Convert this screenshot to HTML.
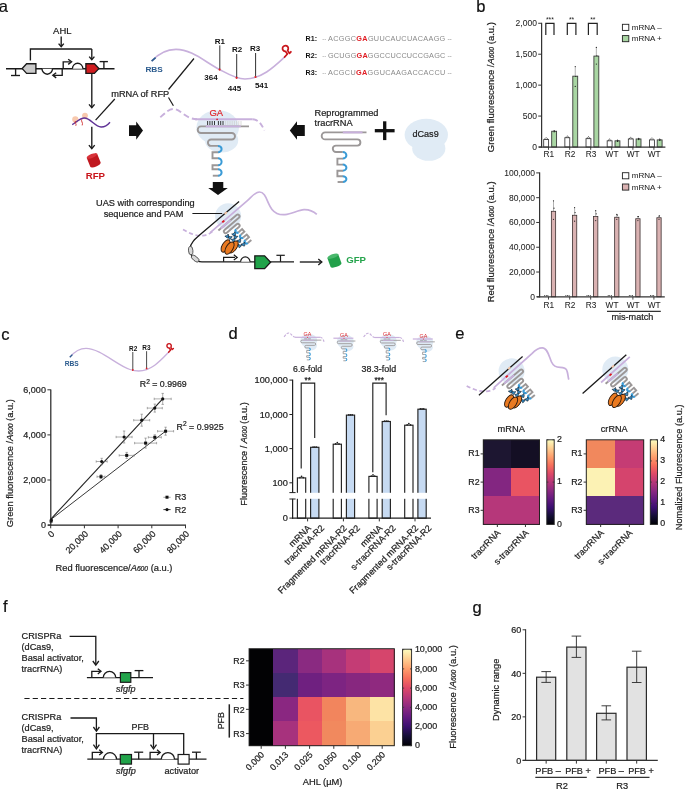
<!DOCTYPE html>
<html><head><meta charset="utf-8"><title>Figure</title>
<style>html,body{margin:0;padding:0;background:#fff}svg{display:block}text{font-family:"Liberation Sans",sans-serif}</style></head><body>
<svg width="685" height="789" viewBox="0 0 685 789">
<rect x="0" y="0" width="685" height="789" fill="#fff"/>
<defs><linearGradient id="magma" x1="0" y1="1" x2="0" y2="0">
<stop offset="0" stop-color="#000004"/>
<stop offset="0.1" stop-color="#140e36"/>
<stop offset="0.2" stop-color="#3b0f70"/>
<stop offset="0.3" stop-color="#641a80"/>
<stop offset="0.4" stop-color="#8c2981"/>
<stop offset="0.5" stop-color="#b73779"/>
<stop offset="0.6" stop-color="#de4968"/>
<stop offset="0.7" stop-color="#f7705c"/>
<stop offset="0.8" stop-color="#fe9f6d"/>
<stop offset="0.9" stop-color="#fecf92"/>
<stop offset="1" stop-color="#fcfdbf"/>
</linearGradient></defs>
<text x="-1.3" y="12.3" font-size="16.5" fill="#111" stroke="#111" stroke-width="0.22" >a</text>
<text x="476.2" y="11.6" font-size="16.5" fill="#111" stroke="#111" stroke-width="0.22" >b</text>
<text x="1.2" y="340" font-size="16.5" fill="#111" stroke="#111" stroke-width="0.22" >c</text>
<text x="228.6" y="339.4" font-size="16.5" fill="#111" stroke="#111" stroke-width="0.22" >d</text>
<text x="455.2" y="339.4" font-size="16.5" fill="#111" stroke="#111" stroke-width="0.22" >e</text>
<text x="3.1" y="611.6" font-size="16.5" fill="#111" stroke="#111" stroke-width="0.22" >f</text>
<text x="472.6" y="613.2" font-size="16.5" fill="#111" stroke="#111" stroke-width="0.22" >g</text>
<g id="panelA">
<text x="62.3" y="34.4" font-size="9.4" text-anchor="middle" fill="#1e1e1e" stroke="#1e1e1e" stroke-width="0.22" textLength="18.4" lengthAdjust="spacingAndGlyphs" >AHL</text>
<line x1="61.2" y1="36.5" x2="61.2" y2="46.3" stroke="#1a1a1a" stroke-width="1.35" />
<path d="M58.6,43.6 L61.2,46.8 L63.8,43.6" stroke="#1a1a1a" stroke-width="1.35" fill="none" stroke-linejoin="miter"/>
<path d="M30.4,60.5 L30.4,49 L91.8,49" stroke="#1a1a1a" stroke-width="1.35" fill="none" />
<line x1="91.8" y1="49" x2="91.8" y2="59.3" stroke="#1a1a1a" stroke-width="1.35" />
<path d="M89.2,56.6 L91.8,59.8 L94.4,56.6" stroke="#1a1a1a" stroke-width="1.35" fill="none" stroke-linejoin="miter"/>
<line x1="6" y1="68.7" x2="114.5" y2="68.7" stroke="#1a1a1a" stroke-width="1.35" />
<line x1="15.6" y1="68.7" x2="15.6" y2="75.5" stroke="#1a1a1a" stroke-width="1.35" />
<line x1="11" y1="75.5" x2="20" y2="75.5" stroke="#1a1a1a" stroke-width="1.35" />
<path d="M35.9,63.7 L26.6,63.7 L22.2,68.6 L26.6,73.4 L35.9,73.4 Z" stroke="#1a1a1a" stroke-width="1.35" fill="#cbcbcb" stroke-linejoin="miter"/>
<path d="M42,68.7 A5.25,5.5 0 0,0 52.5,68.7" stroke="#1a1a1a" stroke-width="1.35" fill="#fff" />
<path d="M62.2,68.7 L62.2,75.3 L53.6,75.3" stroke="#1a1a1a" stroke-width="1.35" fill="none" />
<path d="M56.2,72.7 L52.8,75.3 L56.2,77.9" stroke="#1a1a1a" stroke-width="1.35" fill="none" />
<path d="M63.2,68.7 L63.2,61.8 L70.6,61.8" stroke="#1a1a1a" stroke-width="1.35" fill="none" />
<path d="M68.2,59.2 L71.6,61.8 L68.2,64.4" stroke="#1a1a1a" stroke-width="1.35" fill="none" />
<path d="M72.4,68.7 A5.25,5.4 0 0,1 82.9,68.7" stroke="#1a1a1a" stroke-width="1.35" fill="#fff" />
<path d="M85.9,63.7 L94.4,63.7 L98.9,68.6 L94.4,73.4 L85.9,73.4 Z" stroke="#1a1a1a" stroke-width="1.35" fill="#d01c1f" />
<line x1="103.9" y1="68.7" x2="103.9" y2="61.6" stroke="#1a1a1a" stroke-width="1.35" />
<line x1="99.6" y1="61.6" x2="107.9" y2="61.6" stroke="#1a1a1a" stroke-width="1.35" />
<line x1="91.8" y1="74" x2="91.8" y2="107.3" stroke="#1a1a1a" stroke-width="1.35" />
<path d="M89,104.4 L91.8,107.8 L94.6,104.4" stroke="#1a1a1a" stroke-width="1.35" fill="none" stroke-linejoin="miter"/>
<circle cx="75.3" cy="119.4" r="3.1" fill="#f8c9ae"/>
<circle cx="85" cy="115.6" r="2.9" fill="#f8c9ae"/>
<ellipse cx="75.8" cy="121.6" rx="2.4" ry="1.2" fill="#f8c9ae"/>
<ellipse cx="85.5" cy="118.2" rx="2.2" ry="1.1" fill="#f8c9ae"/>
<path d="M72.2,124.6 C76,122.4 80,118 84.4,118 C90.4,118 95,126.8 101,127 C105,127.2 108,124.6 110,122.2" stroke="#5f3296" stroke-width="1.35" fill="none" />
<path d="M75.4,121 C74.2,122.8 77,123.6 75.8,125.8" stroke="#cf2b2b" stroke-width="0.9" fill="none" />
<path d="M81.8,119.4 C80.6,121.4 83.4,122.4 82.2,125.4" stroke="#cf2b2b" stroke-width="0.9" fill="none" />
<line x1="114.8" y1="99" x2="95.6" y2="120.2" stroke="#1a1a1a" stroke-width="1.25" />
<line x1="91.8" y1="126.8" x2="91.8" y2="148.1" stroke="#1a1a1a" stroke-width="1.35" />
<path d="M88.9,145.1 L91.8,148.6 L94.7,145.1" stroke="#1a1a1a" stroke-width="1.35" fill="none" stroke-linejoin="miter"/>
<g transform="translate(93.6,160) rotate(-22)">
<path d="M-5.6,-4.4 L-5.6,5 A5.6,2 0 0,0 5.6,5 L5.6,-4.4 Z" fill="#c0181f"/>
<ellipse cx="0" cy="-4.4" rx="5.6" ry="2" fill="#d8323a"/>
</g>
<text x="95.4" y="178.6" font-size="9.7" text-anchor="middle" fill="#c9151b" font-weight="bold" textLength="19.4" lengthAdjust="spacingAndGlyphs" >RFP</text>
<text x="111.2" y="96.6" font-size="9.2" fill="#1e1e1e" stroke="#1e1e1e" stroke-width="0.22" textLength="58" lengthAdjust="spacingAndGlyphs" >mRNA of RFP</text>
<path d="M129,125.2 L136.2,125.2 L136.2,121.4 L143,130.6 L136.2,139.8 L136.2,136 L129,136 Z" stroke="none" stroke-width="0" fill="#111" />
<path d="M151.8,61 C160,52 168,49.4 176,49.4 C192,49.4 205,62 219.5,69.5 C228,74 236,79 245,79 C262,79 275,66 285.8,56" stroke="#c8b0dc" stroke-width="1.6" fill="none" stroke-linecap="butt"/>
<line x1="151.6" y1="61.2" x2="155.6" y2="57.6" stroke="#2b5b8e" stroke-width="1.7" />
<text x="145.4" y="72.3" font-size="8" fill="#2b5b8e" font-weight="bold" textLength="17.4" lengthAdjust="spacingAndGlyphs" >RBS</text>
<path d="M284.6,57 L287.4,54 L285.6,51.4 A2.9,2.9 0 1,1 287.6,50.4 L289.4,53.4 L290.9,51.8" stroke="#c9151b" stroke-width="1.75" fill="none" stroke-linejoin="round" stroke-linecap="round"/>
<text x="219.9" y="43.6" font-size="8" text-anchor="middle" fill="#111" font-weight="bold" >R1</text>
<line x1="219.8" y1="45.4" x2="219.8" y2="69" stroke="#1a1a1a" stroke-width="0.9" />
<text x="237" y="51.8" font-size="8" text-anchor="middle" fill="#111" font-weight="bold" >R2</text>
<line x1="236.7" y1="54" x2="236.7" y2="77.4" stroke="#1a1a1a" stroke-width="0.9" />
<text x="255.2" y="51" font-size="8" text-anchor="middle" fill="#111" font-weight="bold" >R3</text>
<line x1="255.6" y1="53" x2="255.6" y2="76.6" stroke="#1a1a1a" stroke-width="0.9" />
<circle cx="219.6" cy="69.6" r="1.1" fill="#e02020"/>
<circle cx="236.6" cy="77.8" r="1.1" fill="#e02020"/>
<circle cx="255.5" cy="77" r="1.1" fill="#e02020"/>
<text x="211" y="80" font-size="8" text-anchor="middle" fill="#111" font-weight="bold" >364</text>
<text x="234.5" y="91.3" font-size="8" text-anchor="middle" fill="#111" font-weight="bold" >445</text>
<text x="261.6" y="87.8" font-size="8" text-anchor="middle" fill="#111" font-weight="bold" >541</text>
<line x1="194" y1="58.5" x2="168.5" y2="89.5" stroke="#1a1a1a" stroke-width="1.2" />
<line x1="168.5" y1="97.5" x2="173.4" y2="105.7" stroke="#1a1a1a" stroke-width="1.2" />
<text x="305.6" y="41.2" font-size="7.3" fill="#111" font-weight="bold" textLength="11.5" lengthAdjust="spacingAndGlyphs" >R1:</text>
<text x="322.2" y="41.2" font-size="7.3" fill="#999" textLength="4" lengthAdjust="spacingAndGlyphs" >--</text>
<text x="328" y="41.2" font-size="7.3" fill="#8a8a8a" textLength="117.3" lengthAdjust="spacing">ACGGC<tspan fill="#e01b22" font-weight="bold">GA</tspan>GUUCAUCUACAAGG</text>
<text x="447.4" y="41.2" font-size="7.3" fill="#999" textLength="4.4" lengthAdjust="spacingAndGlyphs" >--</text>
<text x="305.6" y="58.1" font-size="7.3" fill="#111" font-weight="bold" textLength="11.5" lengthAdjust="spacingAndGlyphs" >R2:</text>
<text x="322.2" y="58.1" font-size="7.3" fill="#999" textLength="4" lengthAdjust="spacingAndGlyphs" >--</text>
<text x="328" y="58.1" font-size="7.3" fill="#8a8a8a" textLength="117.3" lengthAdjust="spacing">GCUGG<tspan fill="#e01b22" font-weight="bold">GA</tspan>GGCCUCCUCCGAGC</text>
<text x="447.4" y="58.1" font-size="7.3" fill="#999" textLength="4.4" lengthAdjust="spacingAndGlyphs" >--</text>
<text x="305.6" y="74.6" font-size="7.3" fill="#111" font-weight="bold" textLength="11.5" lengthAdjust="spacingAndGlyphs" >R3:</text>
<text x="322.2" y="74.6" font-size="7.3" fill="#999" textLength="4" lengthAdjust="spacingAndGlyphs" >--</text>
<text x="328" y="74.6" font-size="7.3" fill="#8a8a8a" textLength="117.3" lengthAdjust="spacing">ACGCU<tspan fill="#e01b22" font-weight="bold">GA</tspan>GGUCAAGACCACCU</text>
<text x="447.4" y="74.6" font-size="7.3" fill="#999" textLength="4.4" lengthAdjust="spacingAndGlyphs" >--</text>
<ellipse cx="217.7" cy="127.6" rx="21.3" ry="17.3" fill="#e0ebf5"/>
<ellipse cx="221.6" cy="140.4" rx="16.6" ry="12.1" fill="#e0ebf5"/>
<path d="M160.3,117.3 C165,113 169,109 173.4,109 C180.5,109 186,119.3 197,119.3" stroke="#c8b0dc" stroke-width="1.9" fill="none" stroke-dasharray="6,3.2"/>
<line x1="195" y1="119.3" x2="252.5" y2="119.3" stroke="#c8b0dc" stroke-width="1.9" />
<path d="M252.5,119.3 C258,119.6 261,123 264.4,130.3" stroke="#c8b0dc" stroke-width="1.9" fill="none" stroke-dasharray="5.5,3"/>
<text x="216.2" y="116.2" font-size="9.4" text-anchor="middle" fill="#e0262b" stroke="#e0262b" stroke-width="0.22" >GA</text>
<circle cx="217.1" cy="119.3" r="0.9" fill="#e02020"/>
<line x1="207.6" y1="121" x2="207.6" y2="125" stroke="#222" stroke-width="0.9" />
<line x1="209.9" y1="121" x2="209.9" y2="125" stroke="#222" stroke-width="0.9" />
<line x1="212.2" y1="121" x2="212.2" y2="125" stroke="#222" stroke-width="0.9" />
<line x1="214.5" y1="121" x2="214.5" y2="125" stroke="#222" stroke-width="0.9" />
<line x1="218.4" y1="121" x2="218.4" y2="125" stroke="#222" stroke-width="0.9" />
<line x1="220.7" y1="121" x2="220.7" y2="125" stroke="#222" stroke-width="0.9" />
<line x1="223" y1="121" x2="223" y2="125" stroke="#222" stroke-width="0.9" />
<line x1="225.6" y1="121" x2="225.6" y2="125" stroke="#cfcfcf" stroke-width="0.8" />
<line x1="227.8" y1="121" x2="227.8" y2="125" stroke="#cfcfcf" stroke-width="0.8" />
<line x1="230" y1="121" x2="230" y2="125" stroke="#cfcfcf" stroke-width="0.8" />
<line x1="232.2" y1="121" x2="232.2" y2="125" stroke="#cfcfcf" stroke-width="0.8" />
<line x1="234.4" y1="121" x2="234.4" y2="125" stroke="#cfcfcf" stroke-width="0.8" />
<line x1="236.6" y1="121" x2="236.6" y2="125" stroke="#cfcfcf" stroke-width="0.8" />
<line x1="238.8" y1="121" x2="238.8" y2="125" stroke="#cfcfcf" stroke-width="0.8" />
<line x1="241" y1="121" x2="241" y2="125" stroke="#cfcfcf" stroke-width="0.8" />
<path d="M249,126.4 L201,126.4 A3.3,3.3 0 0,0 201,133 L231.75,133 A3.25,3.25 0 0,1 231.75,139.5 L211.1,139.5 A3.2,3.2 0 0,0 211.1,145.9 L218,145.9" stroke="#9b9797" stroke-width="1.9" fill="none" />
<line x1="205.8" y1="126.4" x2="240.8" y2="126.4" stroke="#c8b0dc" stroke-width="1.9" />
<path d="M218,145.9 A3.6,3.2 0 0,1 218,152.3" stroke="#3b9bd6" stroke-width="2.0" fill="none" />
<path d="M218.2,152.3 L212.5,152.3 L212.5,158.2 L218.2,158.2" stroke="#9b9797" stroke-width="1.9" fill="none" />
<path d="M218,158.2 A3.6,3.5 0 0,1 218,165.2" stroke="#3b9bd6" stroke-width="2.0" fill="none" />
<path d="M218.2,165.2 L212.5,165.2 L212.5,169.3 L218.2,169.3" stroke="#9b9797" stroke-width="1.9" fill="none" />
<path d="M218,169.3 A3.6,3.2 0 0,1 218,175.7" stroke="#3b9bd6" stroke-width="2.0" fill="none" />
<path d="M218.2,175.7 L212.8,175.7" stroke="#9b9797" stroke-width="1.9" fill="none" />
<path d="M304.8,125.1 L297,125.1 L297,121.3 L289.8,130.5 L297,139.7 L297,135.9 L304.8,135.9 Z" stroke="none" stroke-width="0" fill="#111" />
<text x="314.6" y="115.9" font-size="9.2" fill="#1e1e1e" stroke="#1e1e1e" stroke-width="0.22" textLength="63.8" lengthAdjust="spacingAndGlyphs" >Reprogrammed</text>
<text x="314.6" y="126.2" font-size="9.2" fill="#1e1e1e" stroke="#1e1e1e" stroke-width="0.22" textLength="38" lengthAdjust="spacingAndGlyphs" >tracrRNA</text>
<path d="M366.5,132.4 L325.2,132.4 A3.5,3.5 0 0,0 325.2,139.4 L357.3,139.4 A3.1,3.1 0 0,1 357.3,145.6 L336,145.6 A3.2,3.2 0 0,0 336,152 L342.8,152" stroke="#9b9797" stroke-width="1.9" fill="none" />
<line x1="342.8" y1="132.4" x2="362.5" y2="132.4" stroke="#c8b0dc" stroke-width="1.9" />
<path d="M342.8,152 A3.6,3.3 0 0,1 342.8,158.6" stroke="#3b9bd6" stroke-width="2.0" fill="none" />
<path d="M343,158.6 L337.4,158.6 L337.4,164.6 L343,164.6" stroke="#9b9797" stroke-width="1.9" fill="none" />
<path d="M342.8,164.6 A3.6,3.05 0 0,1 342.8,170.7" stroke="#3b9bd6" stroke-width="2.0" fill="none" />
<path d="M343,170.7 L337.4,170.7 L337.4,176.2 L343,176.2" stroke="#9b9797" stroke-width="1.9" fill="none" />
<path d="M342.8,176.2 A3.6,2.9 0 0,1 342.8,182" stroke="#3b9bd6" stroke-width="2.0" fill="none" />
<path d="M343,182 L337.6,182" stroke="#9b9797" stroke-width="1.9" fill="none" />
<line x1="374.8" y1="130.7" x2="394.6" y2="130.7" stroke="#111" stroke-width="3.3" />
<line x1="384.7" y1="121.3" x2="384.7" y2="140.1" stroke="#111" stroke-width="3.3" />
<ellipse cx="426.3" cy="134.8" rx="21.7" ry="16" fill="#e0ebf5"/>
<ellipse cx="428.8" cy="148.4" rx="16.6" ry="12.4" fill="#e0ebf5"/>
<text x="425.6" y="136.8" font-size="9.2" text-anchor="middle" fill="#1e1e1e" stroke="#1e1e1e" stroke-width="0.22" textLength="26.2" lengthAdjust="spacingAndGlyphs" >dCas9</text>
<path d="M212.8,182 L223.3,182 L223.3,188 L227.8,188 L218,195 L208.2,188 L212.8,188 Z" stroke="none" stroke-width="0" fill="#111" />
<text x="145.4" y="205.7" font-size="9.2" text-anchor="middle" fill="#1e1e1e" stroke="#1e1e1e" stroke-width="0.22" textLength="98.6" lengthAdjust="spacingAndGlyphs" >UAS with corresponding</text>
<text x="143.5" y="216.5" font-size="9.2" text-anchor="middle" fill="#1e1e1e" stroke="#1e1e1e" stroke-width="0.22" textLength="79.7" lengthAdjust="spacingAndGlyphs" >sequence and PAM</text>
<g transform="translate(0,0)">
<circle cx="228.1" cy="216.3" r="13" fill="#e0ebf5"/>
<path d="M183,229.6 C189,233 196,236.4 203,235.6 C207,235 210,233.6 212.4,231.6" stroke="#c8b0dc" stroke-width="1.7" fill="none" stroke-dasharray="4.2,2.6"/>
<path d="M210.2,232.6 L247.4,200.6 C251,197.4 255,192 259.4,192 C266,192 267,203 272,209.4 C276,214.4 280,215 285,214.6 C292,214 298,210 304,209.6 C309,209.4 313,211 316.8,214.4" stroke="#c8b0dc" stroke-width="1.7" fill="none" />
<path d="M239.1,201.4 L201.4,233.6 C195,239 189.6,243.6 190,249.6 C190.4,255.6 194.6,261.8 202,261.8 L294,261.8" stroke="#1a1a1a" stroke-width="1.3" fill="none" />
<ellipse cx="190.7" cy="250.6" rx="2.2" ry="4.3" fill="#d8d8d8" stroke="#222" stroke-width="0.7" transform="rotate(-4 190.7 250.6)"/>
<ellipse cx="195.2" cy="258.6" rx="2.2" ry="4.6" fill="#d8d8d8" stroke="#222" stroke-width="0.7" transform="rotate(-52 195.2 258.6)"/>
<line x1="224.6" y1="214" x2="226.8" y2="212.1" stroke="#f6c6a6" stroke-width="1.7" />
<line x1="222.3" y1="222.3" x2="224.3" y2="220.6" stroke="#dd1a1f" stroke-width="1.9" />
<g transform="matrix(-0.4180,0.3575,0.3575,0.4180,277.294,88.647)">
<path d="M249,126.4 L205.55,126.4 A3.25,3.25 0 0,0 205.55,132.9 L239.95,132.9 A3.25,3.25 0 0,1 239.95,139.4 L216.45,139.4 A3.25,3.25 0 0,0 216.45,145.9 L223,145.9" stroke="#9b9797" stroke-width="3.5" fill="none" />
<line x1="220" y1="126.4" x2="243.4" y2="126.4" stroke="#c8b0dc" stroke-width="3.5" />
<path d="M223,145.9 A3.8,3.3 0 0,1 223,152.5" stroke="#3b9bd6" stroke-width="3.8" fill="none" />
<path d="M223.2,152.5 L214.6,152.5 L214.6,158.8 L223.2,158.8" stroke="#9b9797" stroke-width="3.5" fill="none" />
<path d="M223,158.8 A3.8,3.3 0 0,1 223,165.4" stroke="#3b9bd6" stroke-width="3.8" fill="none" />
<path d="M223.2,165.4 L214.6,165.4 L214.6,171.7 L223.2,171.7" stroke="#9b9797" stroke-width="3.5" fill="none" />
<path d="M223,171.7 A3.8,3.3 0 0,1 223,178.3" stroke="#3b9bd6" stroke-width="3.8" fill="none" />
<path d="M223.2,178.3 L214.6,178.3" stroke="#9b9797" stroke-width="3.5" fill="none" />
</g>
<path d="M-1.9,-1.3 C-0.7,-0.5 0.7,-0.5 1.9,-1.3 C1.7,0.7 0.8,1.5 0,2.2 C-0.8,1.5 -1.7,0.7 -1.9,-1.3 Z" fill="#2f8ecb" stroke="#16202a" stroke-width="0.6" transform="translate(227.2,236.2) rotate(-30)"/>
<path d="M-1.9,-1.3 C-0.7,-0.5 0.7,-0.5 1.9,-1.3 C1.7,0.7 0.8,1.5 0,2.2 C-0.8,1.5 -1.7,0.7 -1.9,-1.3 Z" fill="#2f8ecb" stroke="#16202a" stroke-width="0.6" transform="translate(230,237.4) rotate(10)"/>
<path d="M-1.9,-1.3 C-0.7,-0.5 0.7,-0.5 1.9,-1.3 C1.7,0.7 0.8,1.5 0,2.2 C-0.8,1.5 -1.7,0.7 -1.9,-1.3 Z" fill="#2f8ecb" stroke="#16202a" stroke-width="0.6" transform="translate(234,234) rotate(-35)"/>
<path d="M-1.9,-1.3 C-0.7,-0.5 0.7,-0.5 1.9,-1.3 C1.7,0.7 0.8,1.5 0,2.2 C-0.8,1.5 -1.7,0.7 -1.9,-1.3 Z" fill="#2f8ecb" stroke="#16202a" stroke-width="0.6" transform="translate(235.6,236.8) rotate(20)"/>
<path d="M-1.9,-1.3 C-0.7,-0.5 0.7,-0.5 1.9,-1.3 C1.7,0.7 0.8,1.5 0,2.2 C-0.8,1.5 -1.7,0.7 -1.9,-1.3 Z" fill="#2f8ecb" stroke="#16202a" stroke-width="0.6" transform="translate(233.4,239.8) rotate(-20)"/>
<path d="M-1.9,-1.3 C-0.7,-0.5 0.7,-0.5 1.9,-1.3 C1.7,0.7 0.8,1.5 0,2.2 C-0.8,1.5 -1.7,0.7 -1.9,-1.3 Z" fill="#2f8ecb" stroke="#16202a" stroke-width="0.6" transform="translate(239.2,240.6) rotate(-30)"/>
<path d="M-1.9,-1.3 C-0.7,-0.5 0.7,-0.5 1.9,-1.3 C1.7,0.7 0.8,1.5 0,2.2 C-0.8,1.5 -1.7,0.7 -1.9,-1.3 Z" fill="#2f8ecb" stroke="#16202a" stroke-width="0.6" transform="translate(239.6,245.6) rotate(10)"/>
<path d="M-1.9,-1.3 C-0.7,-0.5 0.7,-0.5 1.9,-1.3 C1.7,0.7 0.8,1.5 0,2.2 C-0.8,1.5 -1.7,0.7 -1.9,-1.3 Z" fill="#2f8ecb" stroke="#16202a" stroke-width="0.6" transform="translate(243.4,244.2) rotate(-30)"/>
<ellipse cx="225.6" cy="246.0" rx="3.4" ry="6.9" fill="#ea7a21" stroke="#2a1a10" stroke-width="0.9" transform="rotate(30 225.6 246.0)"/>
<ellipse cx="233.4" cy="247.0" rx="3.4" ry="6.9" fill="#ea7a21" stroke="#2a1a10" stroke-width="0.9" transform="rotate(34 233.4 247.0)"/>
<ellipse cx="229.5" cy="248.1" rx="3.4" ry="6.9" fill="#ea7a21" stroke="#2a1a10" stroke-width="0.9" transform="rotate(32 229.5 248.1)"/>
</g>
<line x1="192.4" y1="213.5" x2="222.2" y2="213.5" stroke="#1a1a1a" stroke-width="1.0" />
<path d="M223.6,261.8 L223.6,257.4 L235,257.4" stroke="#1a1a1a" stroke-width="1.2" fill="none" />
<path d="M233.8,254.8 L237.2,257.4 L233.8,260" stroke="#1a1a1a" stroke-width="1.2" fill="none" />
<path d="M240.6,261.8 A4.7,4.9 0 0,1 250,261.8" stroke="#1a1a1a" stroke-width="1.2" fill="#fff" />
<path d="M254.8,255.8 L264.6,255.8 L270.6,262.2 L264.6,268.6 L254.8,268.6 Z" stroke="#1a1a1a" stroke-width="1.3" fill="#21a34a" />
<line x1="280.5" y1="261.8" x2="280.5" y2="255.3" stroke="#1a1a1a" stroke-width="1.2" />
<line x1="276.4" y1="255.3" x2="284.8" y2="255.3" stroke="#1a1a1a" stroke-width="1.2" />
<line x1="299.8" y1="262" x2="321.3" y2="262" stroke="#1a1a1a" stroke-width="1.35" />
<path d="M318.3,259.1 L321.8,262 L318.3,264.9" stroke="#1a1a1a" stroke-width="1.35" fill="none" />
<g transform="translate(334.3,260.2) rotate(-20) scale(0.93)">
<path d="M-6.2,-4.6 L-6.2,5.4 A6.2,2.2 0 0,0 6.2,5.4 L6.2,-4.6 Z" fill="#22a04a"/>
<ellipse cx="0" cy="-4.6" rx="6.2" ry="2.2" fill="#49b86c"/>
</g>
<text x="346.2" y="263" font-size="9.6" fill="#25a44c" font-weight="bold" textLength="19.8" lengthAdjust="spacingAndGlyphs" >GFP</text>
</g>
<g id="panelB">
<rect x="543.7" y="139.58" width="4.9" height="7.42" fill="#fff" stroke="#333" stroke-width="0.85" />
<rect x="551.7" y="131.23" width="4.9" height="15.77" fill="#a9d6a3" stroke="#333" stroke-width="0.85" />
<line x1="554.15" y1="130.61" x2="554.15" y2="131.23" stroke="#666" stroke-width="0.5" />
<circle cx="554.15" cy="131.84" r="0.6" fill="#222"/>
<circle cx="554.65" cy="131.23" r="0.6" fill="#222"/>
<circle cx="554.15" cy="130.61" r="0.6" fill="#222"/>
<circle cx="544.95" cy="138.78" r="0.5" fill="#222"/>
<circle cx="546.15" cy="137.78" r="0.5" fill="#222"/>
<circle cx="547.35" cy="138.78" r="0.5" fill="#222"/>
<rect x="564.86" y="137.72" width="4.9" height="9.28" fill="#fff" stroke="#333" stroke-width="0.85" />
<rect x="572.8" y="76.17" width="4.9" height="70.83" fill="#a9d6a3" stroke="#333" stroke-width="0.85" />
<line x1="575.25" y1="66.58" x2="575.25" y2="76.17" stroke="#666" stroke-width="0.5" />
<circle cx="575.25" cy="86.38" r="0.6" fill="#222"/>
<circle cx="575.75" cy="76.48" r="0.6" fill="#222"/>
<circle cx="575.25" cy="66.58" r="0.6" fill="#222"/>
<circle cx="566.11" cy="136.92" r="0.5" fill="#222"/>
<circle cx="567.31" cy="135.92" r="0.5" fill="#222"/>
<circle cx="568.51" cy="136.92" r="0.5" fill="#222"/>
<rect x="586.02" y="138.65" width="4.9" height="8.35" fill="#fff" stroke="#333" stroke-width="0.85" />
<rect x="593.9" y="56.07" width="4.9" height="90.93" fill="#a9d6a3" stroke="#333" stroke-width="0.85" />
<line x1="596.35" y1="47.41" x2="596.35" y2="56.07" stroke="#666" stroke-width="0.5" />
<circle cx="596.35" cy="64.11" r="0.6" fill="#222"/>
<circle cx="596.85" cy="55.76" r="0.6" fill="#222"/>
<circle cx="596.35" cy="47.41" r="0.6" fill="#222"/>
<circle cx="587.27" cy="137.85" r="0.5" fill="#222"/>
<circle cx="588.47" cy="136.85" r="0.5" fill="#222"/>
<circle cx="589.67" cy="137.85" r="0.5" fill="#222"/>
<rect x="607.18" y="140.81" width="4.9" height="6.19" fill="#fff" stroke="#333" stroke-width="0.85" />
<rect x="615" y="140.81" width="4.9" height="6.19" fill="#a9d6a3" stroke="#333" stroke-width="0.85" />
<line x1="617.45" y1="140.2" x2="617.45" y2="140.81" stroke="#666" stroke-width="0.5" />
<circle cx="617.45" cy="141.43" r="0.6" fill="#222"/>
<circle cx="617.95" cy="140.81" r="0.6" fill="#222"/>
<circle cx="617.45" cy="140.2" r="0.6" fill="#222"/>
<circle cx="608.43" cy="140.01" r="0.5" fill="#222"/>
<circle cx="609.63" cy="139.01" r="0.5" fill="#222"/>
<circle cx="610.83" cy="140.01" r="0.5" fill="#222"/>
<rect x="628.34" y="138.96" width="4.9" height="8.04" fill="#fff" stroke="#333" stroke-width="0.85" />
<rect x="636.1" y="138.96" width="4.9" height="8.04" fill="#a9d6a3" stroke="#333" stroke-width="0.85" />
<line x1="638.55" y1="138.34" x2="638.55" y2="138.96" stroke="#666" stroke-width="0.5" />
<circle cx="638.55" cy="139.58" r="0.6" fill="#222"/>
<circle cx="639.05" cy="138.96" r="0.6" fill="#222"/>
<circle cx="638.55" cy="138.34" r="0.6" fill="#222"/>
<circle cx="629.59" cy="138.16" r="0.5" fill="#222"/>
<circle cx="630.79" cy="137.16" r="0.5" fill="#222"/>
<circle cx="631.99" cy="138.16" r="0.5" fill="#222"/>
<rect x="649.5" y="139.89" width="4.9" height="7.11" fill="#fff" stroke="#333" stroke-width="0.85" />
<rect x="657.2" y="139.89" width="4.9" height="7.11" fill="#a9d6a3" stroke="#333" stroke-width="0.85" />
<line x1="659.65" y1="139.08" x2="659.65" y2="139.89" stroke="#666" stroke-width="0.5" />
<circle cx="659.65" cy="140.5" r="0.6" fill="#222"/>
<circle cx="660.15" cy="139.79" r="0.6" fill="#222"/>
<circle cx="659.65" cy="139.08" r="0.6" fill="#222"/>
<circle cx="650.75" cy="139.09" r="0.5" fill="#222"/>
<circle cx="651.95" cy="138.09" r="0.5" fill="#222"/>
<circle cx="653.15" cy="139.09" r="0.5" fill="#222"/>
<line x1="541.6" y1="22.8" x2="541.6" y2="147.6" stroke="#333" stroke-width="1.25" />
<line x1="539" y1="147" x2="665.4" y2="147" stroke="#333" stroke-width="1.25" />
<line x1="538.2" y1="147" x2="541.6" y2="147" stroke="#333" stroke-width="1.0" />
<text x="536.9" y="150" font-size="8.5" text-anchor="end" fill="#1e1e1e" stroke="#1e1e1e" stroke-width="0.05" >0</text>
<line x1="538.2" y1="116.07" x2="541.6" y2="116.07" stroke="#333" stroke-width="1.0" />
<text x="536.9" y="119.07" font-size="8.5" text-anchor="end" fill="#1e1e1e" stroke="#1e1e1e" stroke-width="0.05" >500</text>
<line x1="538.2" y1="85.14" x2="541.6" y2="85.14" stroke="#333" stroke-width="1.0" />
<text x="536.9" y="88.14" font-size="8.5" text-anchor="end" fill="#1e1e1e" stroke="#1e1e1e" stroke-width="0.05" >1,000</text>
<line x1="538.2" y1="54.21" x2="541.6" y2="54.21" stroke="#333" stroke-width="1.0" />
<text x="536.9" y="57.21" font-size="8.5" text-anchor="end" fill="#1e1e1e" stroke="#1e1e1e" stroke-width="0.05" >1,500</text>
<line x1="538.2" y1="23.28" x2="541.6" y2="23.28" stroke="#333" stroke-width="1.0" />
<text x="536.9" y="26.28" font-size="8.5" text-anchor="end" fill="#1e1e1e" stroke="#1e1e1e" stroke-width="0.05" >2,000</text>
<line x1="548.5" y1="147" x2="548.5" y2="149.8" stroke="#333" stroke-width="0.9" />
<text x="548.8" y="157.2" font-size="8.3" text-anchor="middle" fill="#1e1e1e" stroke="#1e1e1e" stroke-width="0.05" >R1</text>
<line x1="569.7" y1="147" x2="569.7" y2="149.8" stroke="#333" stroke-width="0.9" />
<text x="570" y="157.2" font-size="8.3" text-anchor="middle" fill="#1e1e1e" stroke="#1e1e1e" stroke-width="0.05" >R2</text>
<line x1="590.7" y1="147" x2="590.7" y2="149.8" stroke="#333" stroke-width="0.9" />
<text x="591" y="157.2" font-size="8.3" text-anchor="middle" fill="#1e1e1e" stroke="#1e1e1e" stroke-width="0.05" >R3</text>
<line x1="611.7" y1="147" x2="611.7" y2="149.8" stroke="#333" stroke-width="0.9" />
<text x="612" y="157.2" font-size="8.3" text-anchor="middle" fill="#1e1e1e" stroke="#1e1e1e" stroke-width="0.05" >WT</text>
<line x1="632.9" y1="147" x2="632.9" y2="149.8" stroke="#333" stroke-width="0.9" />
<text x="633.2" y="157.2" font-size="8.3" text-anchor="middle" fill="#1e1e1e" stroke="#1e1e1e" stroke-width="0.05" >WT</text>
<line x1="653.9" y1="147" x2="653.9" y2="149.8" stroke="#333" stroke-width="0.9" />
<text x="654.2" y="157.2" font-size="8.3" text-anchor="middle" fill="#1e1e1e" stroke="#1e1e1e" stroke-width="0.05" >WT</text>
<path d="M545.8,34.9 L545.8,23.3 L554,23.3 L554,34.9" stroke="#222" stroke-width="1.2" fill="none" />
<text x="549.9" y="21.9" font-size="6.8" text-anchor="middle" fill="#222" >***</text>
<path d="M567.3,34.9 L567.3,23.3 L575.9,23.3 L575.9,34.9" stroke="#222" stroke-width="1.2" fill="none" />
<text x="571.6" y="21.9" font-size="6.8" text-anchor="middle" fill="#222" >**</text>
<path d="M588.4,34.9 L588.4,23.3 L597.2,23.3 L597.2,34.9" stroke="#222" stroke-width="1.2" fill="none" />
<text x="592.8" y="21.9" font-size="6.8" text-anchor="middle" fill="#222" >**</text>
<rect x="622.4" y="24.3" width="6.4" height="6.1" fill="#fff" stroke="#222" stroke-width="0.9" />
<text x="631.8" y="29.5" font-size="8" fill="#1e1e1e" stroke="#1e1e1e" stroke-width="0.05" textLength="29.9" lengthAdjust="spacingAndGlyphs" >mRNA –</text>
<rect x="622.4" y="35.6" width="6.4" height="6.1" fill="#a9d6a3" stroke="#222" stroke-width="0.9" />
<text x="631.8" y="40.6" font-size="8" fill="#1e1e1e" stroke="#1e1e1e" stroke-width="0.05" textLength="29.9" lengthAdjust="spacingAndGlyphs" >mRNA +</text>
<text transform="translate(493.6,87.2) rotate(-90)" font-size="9.2" text-anchor="middle" fill="#1e1e1e" stroke="#1e1e1e" stroke-width="0.22" textLength="130" lengthAdjust="spacingAndGlyphs">Green fluorescence /<tspan font-style="italic">A</tspan><tspan font-style="italic" font-size="0.72em">600</tspan> (a.u.)</text>
<rect x="551.35" y="211.31" width="4.3" height="85.49" fill="#dab2b2" stroke="#3c3030" stroke-width="0.8" />
<line x1="553.5" y1="200.78" x2="553.5" y2="211.31" stroke="#666" stroke-width="0.5" />
<circle cx="553.5" cy="219.36" r="0.6" fill="#222"/>
<circle cx="554" cy="208.21" r="0.6" fill="#222"/>
<circle cx="553.5" cy="200.78" r="0.6" fill="#222"/>
<circle cx="544.7" cy="295.6" r="0.5" fill="#222"/>
<circle cx="546.3" cy="295.6" r="0.5" fill="#222"/>
<circle cx="547.9" cy="295.6" r="0.5" fill="#222"/>
<rect x="572.45" y="215.27" width="4.3" height="81.53" fill="#dab2b2" stroke="#3c3030" stroke-width="0.8" />
<line x1="574.6" y1="207.59" x2="574.6" y2="215.27" stroke="#666" stroke-width="0.5" />
<circle cx="574.6" cy="221.22" r="0.6" fill="#222"/>
<circle cx="575.1" cy="212.55" r="0.6" fill="#222"/>
<circle cx="574.6" cy="207.59" r="0.6" fill="#222"/>
<circle cx="565.86" cy="295.6" r="0.5" fill="#222"/>
<circle cx="567.46" cy="295.6" r="0.5" fill="#222"/>
<circle cx="569.06" cy="295.6" r="0.5" fill="#222"/>
<rect x="593.55" y="216.51" width="4.3" height="80.29" fill="#dab2b2" stroke="#3c3030" stroke-width="0.8" />
<line x1="595.7" y1="210.69" x2="595.7" y2="216.51" stroke="#666" stroke-width="0.5" />
<circle cx="595.7" cy="220.6" r="0.6" fill="#222"/>
<circle cx="596.2" cy="213.79" r="0.6" fill="#222"/>
<circle cx="595.7" cy="210.69" r="0.6" fill="#222"/>
<circle cx="587.02" cy="295.6" r="0.5" fill="#222"/>
<circle cx="588.62" cy="295.6" r="0.5" fill="#222"/>
<circle cx="590.22" cy="295.6" r="0.5" fill="#222"/>
<rect x="614.65" y="217.26" width="4.3" height="79.54" fill="#dab2b2" stroke="#3c3030" stroke-width="0.8" />
<line x1="616.8" y1="214.41" x2="616.8" y2="217.26" stroke="#666" stroke-width="0.5" />
<circle cx="616.8" cy="219.36" r="0.6" fill="#222"/>
<circle cx="617.3" cy="215.03" r="0.6" fill="#222"/>
<circle cx="616.8" cy="214.41" r="0.6" fill="#222"/>
<circle cx="608.18" cy="295.6" r="0.5" fill="#222"/>
<circle cx="609.78" cy="295.6" r="0.5" fill="#222"/>
<circle cx="611.38" cy="295.6" r="0.5" fill="#222"/>
<rect x="635.75" y="218.74" width="4.3" height="78.06" fill="#dab2b2" stroke="#3c3030" stroke-width="0.8" />
<line x1="637.9" y1="216.51" x2="637.9" y2="218.74" stroke="#666" stroke-width="0.5" />
<circle cx="637.9" cy="220.6" r="0.6" fill="#222"/>
<circle cx="638.4" cy="216.7" r="0.6" fill="#222"/>
<circle cx="637.9" cy="216.51" r="0.6" fill="#222"/>
<circle cx="629.34" cy="295.6" r="0.5" fill="#222"/>
<circle cx="630.94" cy="295.6" r="0.5" fill="#222"/>
<circle cx="632.54" cy="295.6" r="0.5" fill="#222"/>
<rect x="656.85" y="217.75" width="4.3" height="79.05" fill="#dab2b2" stroke="#3c3030" stroke-width="0.8" />
<line x1="659" y1="216.02" x2="659" y2="217.75" stroke="#666" stroke-width="0.5" />
<circle cx="659" cy="219.36" r="0.6" fill="#222"/>
<circle cx="659.5" cy="215.83" r="0.6" fill="#222"/>
<circle cx="659" cy="216.02" r="0.6" fill="#222"/>
<circle cx="650.5" cy="295.6" r="0.5" fill="#222"/>
<circle cx="652.1" cy="295.6" r="0.5" fill="#222"/>
<circle cx="653.7" cy="295.6" r="0.5" fill="#222"/>
<line x1="539.6" y1="172.4" x2="539.6" y2="297.4" stroke="#333" stroke-width="1.25" />
<line x1="537" y1="296.8" x2="664.8" y2="296.8" stroke="#333" stroke-width="1.25" />
<line x1="536.2" y1="296.8" x2="539.6" y2="296.8" stroke="#333" stroke-width="1.0" />
<text x="535" y="299.8" font-size="8.5" text-anchor="end" fill="#1e1e1e" stroke="#1e1e1e" stroke-width="0.05" >0</text>
<line x1="536.2" y1="272.02" x2="539.6" y2="272.02" stroke="#333" stroke-width="1.0" />
<text x="535" y="275.02" font-size="8.5" text-anchor="end" fill="#1e1e1e" stroke="#1e1e1e" stroke-width="0.05" >20,000</text>
<line x1="536.2" y1="247.24" x2="539.6" y2="247.24" stroke="#333" stroke-width="1.0" />
<text x="535" y="250.24" font-size="8.5" text-anchor="end" fill="#1e1e1e" stroke="#1e1e1e" stroke-width="0.05" >40,000</text>
<line x1="536.2" y1="222.46" x2="539.6" y2="222.46" stroke="#333" stroke-width="1.0" />
<text x="535" y="225.46" font-size="8.5" text-anchor="end" fill="#1e1e1e" stroke="#1e1e1e" stroke-width="0.05" >60,000</text>
<line x1="536.2" y1="197.68" x2="539.6" y2="197.68" stroke="#333" stroke-width="1.0" />
<text x="535" y="200.68" font-size="8.5" text-anchor="end" fill="#1e1e1e" stroke="#1e1e1e" stroke-width="0.05" >80,000</text>
<line x1="536.2" y1="172.9" x2="539.6" y2="172.9" stroke="#333" stroke-width="1.0" />
<text x="535" y="175.9" font-size="8.5" text-anchor="end" fill="#1e1e1e" stroke="#1e1e1e" stroke-width="0.05" >100,000</text>
<line x1="548.5" y1="296.8" x2="548.5" y2="299.6" stroke="#333" stroke-width="0.9" />
<text x="548.8" y="307.9" font-size="8.3" text-anchor="middle" fill="#1e1e1e" stroke="#1e1e1e" stroke-width="0.05" >R1</text>
<line x1="569.7" y1="296.8" x2="569.7" y2="299.6" stroke="#333" stroke-width="0.9" />
<text x="570" y="307.9" font-size="8.3" text-anchor="middle" fill="#1e1e1e" stroke="#1e1e1e" stroke-width="0.05" >R2</text>
<line x1="590.7" y1="296.8" x2="590.7" y2="299.6" stroke="#333" stroke-width="0.9" />
<text x="591" y="307.9" font-size="8.3" text-anchor="middle" fill="#1e1e1e" stroke="#1e1e1e" stroke-width="0.05" >R3</text>
<line x1="611.7" y1="296.8" x2="611.7" y2="299.6" stroke="#333" stroke-width="0.9" />
<text x="612" y="307.9" font-size="8.3" text-anchor="middle" fill="#1e1e1e" stroke="#1e1e1e" stroke-width="0.05" >WT</text>
<line x1="632.9" y1="296.8" x2="632.9" y2="299.6" stroke="#333" stroke-width="0.9" />
<text x="633.2" y="307.9" font-size="8.3" text-anchor="middle" fill="#1e1e1e" stroke="#1e1e1e" stroke-width="0.05" >WT</text>
<line x1="653.9" y1="296.8" x2="653.9" y2="299.6" stroke="#333" stroke-width="0.9" />
<text x="654.2" y="307.9" font-size="8.3" text-anchor="middle" fill="#1e1e1e" stroke="#1e1e1e" stroke-width="0.05" >WT</text>
<line x1="607" y1="311.4" x2="660.8" y2="311.4" stroke="#333" stroke-width="1.2" />
<text x="632.4" y="319.7" font-size="9.1" text-anchor="middle" fill="#1e1e1e" stroke="#1e1e1e" stroke-width="0.22" textLength="42" lengthAdjust="spacingAndGlyphs" >mis-match</text>
<rect x="622.4" y="172.7" width="6.4" height="6.1" fill="#fff" stroke="#222" stroke-width="0.9" />
<text x="631.8" y="178.3" font-size="8" fill="#1e1e1e" stroke="#1e1e1e" stroke-width="0.05" textLength="29.9" lengthAdjust="spacingAndGlyphs" >mRNA –</text>
<rect x="622.4" y="184" width="6.4" height="6.1" fill="#dab2b2" stroke="#222" stroke-width="0.9" />
<text x="631.8" y="189.5" font-size="8" fill="#1e1e1e" stroke="#1e1e1e" stroke-width="0.05" textLength="29.9" lengthAdjust="spacingAndGlyphs" >mRNA +</text>
<text transform="translate(493.6,241.8) rotate(-90)" font-size="9.2" text-anchor="middle" fill="#1e1e1e" stroke="#1e1e1e" stroke-width="0.22" textLength="120.8" lengthAdjust="spacingAndGlyphs">Red fluorescence /<tspan font-style="italic">A</tspan><tspan font-style="italic" font-size="0.72em">600</tspan> (a.u.)</text>
</g>
<g id="panelC">
<path d="M70,357 C75,351 80,348.3 86,348.3 C100,348.3 118,366 130,369.5 C133,370.5 136,371 138.7,371 C152,371 162,359 169.3,351.5" stroke="#c8b0dc" stroke-width="1.3" fill="none" />
<line x1="69.8" y1="357.2" x2="72.4" y2="354.6" stroke="#2b5b8e" stroke-width="1.3" />
<text x="64.8" y="366.2" font-size="6.4" fill="#2b5b8e" font-weight="bold" textLength="14" lengthAdjust="spacingAndGlyphs" >RBS</text>
<text x="133.2" y="350.7" font-size="6.4" text-anchor="middle" fill="#111" font-weight="bold" >R2</text>
<text x="146.4" y="349.8" font-size="6.4" text-anchor="middle" fill="#111" font-weight="bold" >R3</text>
<line x1="132.8" y1="352" x2="132.8" y2="369.8" stroke="#1a1a1a" stroke-width="0.8" />
<line x1="146.6" y1="351.2" x2="146.6" y2="368.4" stroke="#1a1a1a" stroke-width="0.8" />
<circle cx="132.8" cy="370" r="0.9" fill="#e02020"/><circle cx="146.6" cy="368.4" r="0.9" fill="#e02020"/>
<path d="M168.6,352.2 L170.6,350 L169.2,348 A2.2,2.2 0 1,1 170.8,347.2 L172.2,349.6 L173.4,348.4" stroke="#c9151b" stroke-width="1.4" fill="none" stroke-linejoin="round" stroke-linecap="round"/>
<line x1="50.8" y1="519.2" x2="162.9" y2="398.6" stroke="#222" stroke-width="1.1" />
<line x1="50.8" y1="519.6" x2="165.8" y2="431" stroke="#222" stroke-width="0.9" />
<line x1="154.2" y1="398.9" x2="171.2" y2="398.9" stroke="#777" stroke-width="0.6" />
<line x1="162.7" y1="393.4" x2="162.7" y2="404.4" stroke="#777" stroke-width="0.6" />
<line x1="154.2" y1="397.7" x2="154.2" y2="400.1" stroke="#777" stroke-width="0.6" />
<line x1="171.2" y1="397.7" x2="171.2" y2="400.1" stroke="#777" stroke-width="0.6" />
<line x1="161.5" y1="393.4" x2="163.9" y2="393.4" stroke="#777" stroke-width="0.6" />
<line x1="161.5" y1="404.4" x2="163.9" y2="404.4" stroke="#777" stroke-width="0.6" />
<circle cx="162.7" cy="398.9" r="1.6" fill="#111"/>
<line x1="147.3" y1="408.1" x2="162.3" y2="408.1" stroke="#777" stroke-width="0.6" />
<line x1="154.8" y1="404.1" x2="154.8" y2="412.1" stroke="#777" stroke-width="0.6" />
<line x1="147.3" y1="406.9" x2="147.3" y2="409.3" stroke="#777" stroke-width="0.6" />
<line x1="162.3" y1="406.9" x2="162.3" y2="409.3" stroke="#777" stroke-width="0.6" />
<line x1="153.6" y1="404.1" x2="156" y2="404.1" stroke="#777" stroke-width="0.6" />
<line x1="153.6" y1="412.1" x2="156" y2="412.1" stroke="#777" stroke-width="0.6" />
<circle cx="154.8" cy="408.1" r="1.6" fill="#111"/>
<line x1="133.7" y1="420.2" x2="149.7" y2="420.2" stroke="#777" stroke-width="0.6" />
<line x1="141.7" y1="414.2" x2="141.7" y2="426.2" stroke="#777" stroke-width="0.6" />
<line x1="133.7" y1="419" x2="133.7" y2="421.4" stroke="#777" stroke-width="0.6" />
<line x1="149.7" y1="419" x2="149.7" y2="421.4" stroke="#777" stroke-width="0.6" />
<line x1="140.5" y1="414.2" x2="142.9" y2="414.2" stroke="#777" stroke-width="0.6" />
<line x1="140.5" y1="426.2" x2="142.9" y2="426.2" stroke="#777" stroke-width="0.6" />
<circle cx="141.7" cy="420.2" r="1.6" fill="#111"/>
<line x1="116.1" y1="437" x2="132.1" y2="437" stroke="#777" stroke-width="0.6" />
<line x1="124.1" y1="431" x2="124.1" y2="443" stroke="#777" stroke-width="0.6" />
<line x1="116.1" y1="435.8" x2="116.1" y2="438.2" stroke="#777" stroke-width="0.6" />
<line x1="132.1" y1="435.8" x2="132.1" y2="438.2" stroke="#777" stroke-width="0.6" />
<line x1="122.9" y1="431" x2="125.3" y2="431" stroke="#777" stroke-width="0.6" />
<line x1="122.9" y1="443" x2="125.3" y2="443" stroke="#777" stroke-width="0.6" />
<circle cx="124.1" cy="437" r="1.6" fill="#111"/>
<line x1="96.2" y1="461.5" x2="107.2" y2="461.5" stroke="#777" stroke-width="0.6" />
<line x1="101.7" y1="458.3" x2="101.7" y2="464.7" stroke="#777" stroke-width="0.6" />
<line x1="96.2" y1="460.3" x2="96.2" y2="462.7" stroke="#777" stroke-width="0.6" />
<line x1="107.2" y1="460.3" x2="107.2" y2="462.7" stroke="#777" stroke-width="0.6" />
<line x1="100.5" y1="458.3" x2="102.9" y2="458.3" stroke="#777" stroke-width="0.6" />
<line x1="100.5" y1="464.7" x2="102.9" y2="464.7" stroke="#777" stroke-width="0.6" />
<circle cx="101.7" cy="461.5" r="1.6" fill="#111"/>
<line x1="157.6" y1="431.2" x2="173.6" y2="431.2" stroke="#777" stroke-width="0.6" />
<line x1="165.6" y1="427.2" x2="165.6" y2="435.2" stroke="#777" stroke-width="0.6" />
<line x1="157.6" y1="430" x2="157.6" y2="432.4" stroke="#777" stroke-width="0.6" />
<line x1="173.6" y1="430" x2="173.6" y2="432.4" stroke="#777" stroke-width="0.6" />
<line x1="164.4" y1="427.2" x2="166.8" y2="427.2" stroke="#777" stroke-width="0.6" />
<line x1="164.4" y1="435.2" x2="166.8" y2="435.2" stroke="#777" stroke-width="0.6" />
<rect x="164.1" y="429.7" width="3" height="3" fill="#111"/>
<line x1="148.3" y1="437.3" x2="161.3" y2="437.3" stroke="#777" stroke-width="0.6" />
<line x1="154.8" y1="434.8" x2="154.8" y2="439.8" stroke="#777" stroke-width="0.6" />
<line x1="148.3" y1="436.1" x2="148.3" y2="438.5" stroke="#777" stroke-width="0.6" />
<line x1="161.3" y1="436.1" x2="161.3" y2="438.5" stroke="#777" stroke-width="0.6" />
<line x1="153.6" y1="434.8" x2="156" y2="434.8" stroke="#777" stroke-width="0.6" />
<line x1="153.6" y1="439.8" x2="156" y2="439.8" stroke="#777" stroke-width="0.6" />
<rect x="153.3" y="435.8" width="3" height="3" fill="#111"/>
<line x1="134.6" y1="443.1" x2="156.6" y2="443.1" stroke="#777" stroke-width="0.6" />
<line x1="145.6" y1="438.1" x2="145.6" y2="448.1" stroke="#777" stroke-width="0.6" />
<line x1="134.6" y1="441.9" x2="134.6" y2="444.3" stroke="#777" stroke-width="0.6" />
<line x1="156.6" y1="441.9" x2="156.6" y2="444.3" stroke="#777" stroke-width="0.6" />
<line x1="144.4" y1="438.1" x2="146.8" y2="438.1" stroke="#777" stroke-width="0.6" />
<line x1="144.4" y1="448.1" x2="146.8" y2="448.1" stroke="#777" stroke-width="0.6" />
<rect x="144.1" y="441.6" width="3" height="3" fill="#111"/>
<line x1="119.2" y1="455.4" x2="134.2" y2="455.4" stroke="#777" stroke-width="0.6" />
<line x1="126.7" y1="452.4" x2="126.7" y2="458.4" stroke="#777" stroke-width="0.6" />
<line x1="119.2" y1="454.2" x2="119.2" y2="456.6" stroke="#777" stroke-width="0.6" />
<line x1="134.2" y1="454.2" x2="134.2" y2="456.6" stroke="#777" stroke-width="0.6" />
<line x1="125.5" y1="452.4" x2="127.9" y2="452.4" stroke="#777" stroke-width="0.6" />
<line x1="125.5" y1="458.4" x2="127.9" y2="458.4" stroke="#777" stroke-width="0.6" />
<rect x="125.2" y="453.9" width="3" height="3" fill="#111"/>
<line x1="97" y1="476.7" x2="105" y2="476.7" stroke="#777" stroke-width="0.6" />
<line x1="101" y1="474.7" x2="101" y2="478.7" stroke="#777" stroke-width="0.6" />
<line x1="97" y1="475.5" x2="97" y2="477.9" stroke="#777" stroke-width="0.6" />
<line x1="105" y1="475.5" x2="105" y2="477.9" stroke="#777" stroke-width="0.6" />
<line x1="99.8" y1="474.7" x2="102.2" y2="474.7" stroke="#777" stroke-width="0.6" />
<line x1="99.8" y1="478.7" x2="102.2" y2="478.7" stroke="#777" stroke-width="0.6" />
<rect x="99.5" y="475.2" width="3" height="3" fill="#111"/>
<rect x="49.6" y="519.6" width="3" height="3" fill="#111"/>
<circle cx="51.4" cy="520" r="1.5" fill="#111"/>
<line x1="50.8" y1="389.4" x2="50.8" y2="525.6" stroke="#222" stroke-width="1.2" />
<line x1="48" y1="525.1" x2="186" y2="525.1" stroke="#222" stroke-width="1.2" />
<line x1="47.4" y1="525.1" x2="50.8" y2="525.1" stroke="#333" stroke-width="1.0" />
<text x="45.9" y="528.3" font-size="9" text-anchor="end" fill="#1e1e1e" stroke="#1e1e1e" stroke-width="0.22" >0</text>
<line x1="47.4" y1="480" x2="50.8" y2="480" stroke="#333" stroke-width="1.0" />
<text x="45.9" y="483.2" font-size="9" text-anchor="end" fill="#1e1e1e" stroke="#1e1e1e" stroke-width="0.22" >2,000</text>
<line x1="47.4" y1="434.9" x2="50.8" y2="434.9" stroke="#333" stroke-width="1.0" />
<text x="45.9" y="438.1" font-size="9" text-anchor="end" fill="#1e1e1e" stroke="#1e1e1e" stroke-width="0.22" >4,000</text>
<line x1="47.4" y1="389.8" x2="50.8" y2="389.8" stroke="#333" stroke-width="1.0" />
<text x="45.9" y="393" font-size="9" text-anchor="end" fill="#1e1e1e" stroke="#1e1e1e" stroke-width="0.22" >6,000</text>
<line x1="50.7" y1="525.1" x2="50.7" y2="528.3" stroke="#333" stroke-width="1.0" />
<text transform="translate(55.1,534.5) rotate(-45)" font-size="9" text-anchor="end" fill="#1e1e1e" stroke="#1e1e1e" stroke-width="0.22" >0</text>
<line x1="84.4" y1="525.1" x2="84.4" y2="528.3" stroke="#333" stroke-width="1.0" />
<text transform="translate(88.8,534.5) rotate(-45)" font-size="9" text-anchor="end" fill="#1e1e1e" stroke="#1e1e1e" stroke-width="0.22" >20,000</text>
<line x1="118.1" y1="525.1" x2="118.1" y2="528.3" stroke="#333" stroke-width="1.0" />
<text transform="translate(122.5,534.5) rotate(-45)" font-size="9" text-anchor="end" fill="#1e1e1e" stroke="#1e1e1e" stroke-width="0.22" >40,000</text>
<line x1="151.8" y1="525.1" x2="151.8" y2="528.3" stroke="#333" stroke-width="1.0" />
<text transform="translate(156.2,534.5) rotate(-45)" font-size="9" text-anchor="end" fill="#1e1e1e" stroke="#1e1e1e" stroke-width="0.22" >60,000</text>
<line x1="185.5" y1="525.1" x2="185.5" y2="528.3" stroke="#333" stroke-width="1.0" />
<text transform="translate(189.9,534.5) rotate(-45)" font-size="9" text-anchor="end" fill="#1e1e1e" stroke="#1e1e1e" stroke-width="0.22" >80,000</text>
<text x="139.8" y="387.4" font-size="8.8" fill="#1e1e1e" stroke="#1e1e1e" stroke-width="0.22">R<tspan font-size="6.6" dy="-3.7">2</tspan><tspan dy="3.7"> = 0.9969</tspan></text>
<text x="176.6" y="430" font-size="8.8" fill="#1e1e1e" stroke="#1e1e1e" stroke-width="0.22">R<tspan font-size="6.6" dy="-3.7">2</tspan><tspan dy="3.7"> = 0.9925</tspan></text>
<line x1="163.4" y1="497.3" x2="170.6" y2="497.3" stroke="#777" stroke-width="0.7" />
<rect x="165.5" y="495.7" width="3" height="3" fill="#111"/>
<text x="174.8" y="500.2" font-size="9" fill="#1e1e1e" stroke="#1e1e1e" stroke-width="0.22" >R3</text>
<line x1="163.4" y1="509.6" x2="170.6" y2="509.6" stroke="#222" stroke-width="0.9" />
<circle cx="167" cy="509.6" r="1.6" fill="#111"/>
<text x="174.8" y="512.7" font-size="9" fill="#1e1e1e" stroke="#1e1e1e" stroke-width="0.22" >R2</text>
<text transform="translate(13.3,463.2) rotate(-90)" font-size="9.2" text-anchor="middle" fill="#1e1e1e" stroke="#1e1e1e" stroke-width="0.22" textLength="128" lengthAdjust="spacingAndGlyphs">Green fluorescence /<tspan font-style="italic">A</tspan><tspan font-style="italic" font-size="0.72em">600</tspan> (a.u.)</text>
<text x="114" y="570.9" font-size="9.2" text-anchor="middle" fill="#1e1e1e" stroke="#1e1e1e" stroke-width="0.22" textLength="116.8" lengthAdjust="spacingAndGlyphs">Red fluorescence/<tspan font-style="italic">A</tspan><tspan font-style="italic" font-size="0.72em">600</tspan> (a.u.)</text>
</g>
<g id="panelD">
<g transform="translate(221.7,289.58) scale(0.4)">
<ellipse cx="217.7" cy="127.6" rx="21.3" ry="17.3" fill="#e0ebf5"/>
<ellipse cx="221.6" cy="140.4" rx="16.6" ry="12.1" fill="#e0ebf5"/>
</g>
<path d="M284.1,336.8 C285.9,334.3 287.3,333 288.5,333 C291.3,333 292.5,337.3 295.5,337.3" stroke="#c8b0dc" stroke-width="1.15" fill="none" stroke-dasharray="2.6,1.3"/>
<line x1="295.1" y1="337.3" x2="320.3" y2="337.3" stroke="#c8b0dc" stroke-width="1.2" />
<path d="M320.3,337.3 C322.3,337.5 323.3,339.3 324.1,341.9" stroke="#c8b0dc" stroke-width="1.15" fill="none" stroke-dasharray="2.4,1.3"/>
<text x="307.5" y="336.1" font-size="5.4" text-anchor="middle" fill="#e0262b" >GA</text>
<circle cx="307.5" cy="337.3" r="0.5" fill="#e02020"/>
<line x1="304.7" y1="338.2" x2="304.7" y2="339.5" stroke="#666" stroke-width="0.45" />
<line x1="305.7" y1="338.2" x2="305.7" y2="339.5" stroke="#666" stroke-width="0.45" />
<line x1="306.7" y1="338.2" x2="306.7" y2="339.5" stroke="#666" stroke-width="0.45" />
<line x1="308.3" y1="338.2" x2="308.3" y2="339.5" stroke="#666" stroke-width="0.45" />
<line x1="309.3" y1="338.2" x2="309.3" y2="339.5" stroke="#666" stroke-width="0.45" />
<line x1="310.3" y1="338.2" x2="310.3" y2="339.5" stroke="#666" stroke-width="0.45" />
<g transform="translate(221.7,289.58) scale(0.4)">
<path d="M249,126.4 L201,126.4 A3.3,3.3 0 0,0 201,133 L231.75,133 A3.25,3.25 0 0,1 231.75,139.5 L211.1,139.5 A3.2,3.2 0 0,0 211.1,145.9 L218,145.9" stroke="#9b9797" stroke-width="2.2" fill="none" />
<line x1="204" y1="126.4" x2="231" y2="126.4" stroke="#c8b0dc" stroke-width="2.2" />
<path d="M218,145.9 A3.6,3.2 0 0,1 218,152.3" stroke="#3b9bd6" stroke-width="2.6" fill="none" />
<path d="M218.2,152.3 L212.5,152.3 L212.5,158.2 L218.2,158.2" stroke="#9b9797" stroke-width="2.2" fill="none" />
<path d="M218,158.2 A3.6,3.5 0 0,1 218,165.2" stroke="#3b9bd6" stroke-width="2.6" fill="none" />
<path d="M218.2,165.2 L212.5,165.2 L212.5,169.3 L218.2,169.3" stroke="#9b9797" stroke-width="2.2" fill="none" />
<path d="M218,169.3 A3.6,3.2 0 0,1 218,175.7" stroke="#3b9bd6" stroke-width="2.6" fill="none" />
<path d="M218.2,175.7 L212.8,175.7" stroke="#9b9797" stroke-width="2.2" fill="none" />
</g>
<g transform="translate(258.2,290.48) scale(0.4)">
<ellipse cx="217.7" cy="127.6" rx="21.3" ry="17.3" fill="#e0ebf5"/>
<ellipse cx="221.6" cy="140.4" rx="16.6" ry="12.1" fill="#e0ebf5"/>
</g>
<line x1="333.4" y1="338.2" x2="353.4" y2="338.2" stroke="#c8b0dc" stroke-width="1.2" />
<text x="344" y="337" font-size="5.4" text-anchor="middle" fill="#e0262b" >GA</text>
<circle cx="344" cy="338.2" r="0.5" fill="#e02020"/>
<line x1="341.2" y1="339.1" x2="341.2" y2="340.4" stroke="#666" stroke-width="0.45" />
<line x1="342.2" y1="339.1" x2="342.2" y2="340.4" stroke="#666" stroke-width="0.45" />
<line x1="343.2" y1="339.1" x2="343.2" y2="340.4" stroke="#666" stroke-width="0.45" />
<line x1="344.8" y1="339.1" x2="344.8" y2="340.4" stroke="#666" stroke-width="0.45" />
<line x1="345.8" y1="339.1" x2="345.8" y2="340.4" stroke="#666" stroke-width="0.45" />
<line x1="346.8" y1="339.1" x2="346.8" y2="340.4" stroke="#666" stroke-width="0.45" />
<g transform="translate(258.2,290.48) scale(0.4)">
<path d="M243,126.4 L201,126.4 A3.3,3.3 0 0,0 201,133 L231.75,133 A3.25,3.25 0 0,1 231.75,139.5 L211.1,139.5 A3.2,3.2 0 0,0 211.1,145.9 L218,145.9" stroke="#9b9797" stroke-width="2.2" fill="none" />
<line x1="204" y1="126.4" x2="231" y2="126.4" stroke="#c8b0dc" stroke-width="2.2" />
<path d="M218,145.9 A3.6,3.2 0 0,1 218,152.3" stroke="#3b9bd6" stroke-width="2.6" fill="none" />
<path d="M218.2,152.3 L212.5,152.3 L212.5,158.2 L218.2,158.2" stroke="#9b9797" stroke-width="2.2" fill="none" />
<path d="M218,158.2 A3.6,3.5 0 0,1 218,165.2" stroke="#3b9bd6" stroke-width="2.6" fill="none" />
<path d="M218.2,165.2 L212.5,165.2 L212.5,169.3 L218.2,169.3" stroke="#9b9797" stroke-width="2.2" fill="none" />
<path d="M218,169.3 A3.6,3.2 0 0,1 218,175.7" stroke="#3b9bd6" stroke-width="2.6" fill="none" />
<path d="M218.2,175.7 L212.8,175.7" stroke="#9b9797" stroke-width="2.2" fill="none" />
</g>
<g transform="translate(301.2,289.78) scale(0.4)">
<ellipse cx="217.7" cy="127.6" rx="21.3" ry="17.3" fill="#e0ebf5"/>
<ellipse cx="221.6" cy="140.4" rx="16.6" ry="12.1" fill="#e0ebf5"/>
</g>
<path d="M363.6,337 C365.4,334.5 366.8,333.2 368,333.2 C370.8,333.2 372,337.5 375,337.5" stroke="#c8b0dc" stroke-width="1.15" fill="none" stroke-dasharray="2.6,1.3"/>
<line x1="374.6" y1="337.5" x2="399.8" y2="337.5" stroke="#c8b0dc" stroke-width="1.2" />
<path d="M399.8,337.5 C401.8,337.7 402.8,339.5 403.6,342.1" stroke="#c8b0dc" stroke-width="1.15" fill="none" stroke-dasharray="2.4,1.3"/>
<text x="387" y="336.3" font-size="5.4" text-anchor="middle" fill="#e0262b" >GA</text>
<circle cx="387" cy="337.5" r="0.5" fill="#e02020"/>
<line x1="384.2" y1="338.4" x2="384.2" y2="339.7" stroke="#666" stroke-width="0.45" />
<line x1="385.2" y1="338.4" x2="385.2" y2="339.7" stroke="#666" stroke-width="0.45" />
<line x1="386.2" y1="338.4" x2="386.2" y2="339.7" stroke="#666" stroke-width="0.45" />
<line x1="387.8" y1="338.4" x2="387.8" y2="339.7" stroke="#666" stroke-width="0.45" />
<line x1="388.8" y1="338.4" x2="388.8" y2="339.7" stroke="#666" stroke-width="0.45" />
<line x1="389.8" y1="338.4" x2="389.8" y2="339.7" stroke="#666" stroke-width="0.45" />
<g transform="translate(301.2,289.78) scale(0.4)">
<path d="M249,126.4 L201,126.4 A3.3,3.3 0 0,0 201,133 L231.75,133 A3.25,3.25 0 0,1 231.75,139.5 L211.1,139.5 A3.2,3.2 0 0,0 211.1,145.9 L218,145.9" stroke="#9b9797" stroke-width="2.2" fill="none" />
<line x1="204" y1="126.4" x2="231" y2="126.4" stroke="#c8b0dc" stroke-width="2.2" />
<path d="M218,145.9 A3.6,3.2 0 0,1 218,152.3" stroke="#3b9bd6" stroke-width="2.6" fill="none" />
<path d="M218.2,152.3 L212.5,152.3 L212.5,158.2 L218.2,158.2" stroke="#9b9797" stroke-width="2.2" fill="none" />
<path d="M218,158.2 A3.6,3.5 0 0,1 218,165.2" stroke="#3b9bd6" stroke-width="2.6" fill="none" />
<path d="M218.2,165.2 L212.5,165.2 L212.5,169.3 L218.2,169.3" stroke="#9b9797" stroke-width="2.2" fill="none" />
<path d="M218,169.3 A3.6,3.2 0 0,1 218,175.7" stroke="#3b9bd6" stroke-width="2.6" fill="none" />
<path d="M218.2,175.7 L212.8,175.7" stroke="#9b9797" stroke-width="2.2" fill="none" />
</g>
<g transform="translate(337.6,291.28) scale(0.4)">
<ellipse cx="217.7" cy="127.6" rx="21.3" ry="17.3" fill="#e0ebf5"/>
<ellipse cx="221.6" cy="140.4" rx="16.6" ry="12.1" fill="#e0ebf5"/>
</g>
<line x1="412.8" y1="339" x2="432.8" y2="339" stroke="#c8b0dc" stroke-width="1.2" />
<text x="423.4" y="337.8" font-size="5.4" text-anchor="middle" fill="#e0262b" >GA</text>
<circle cx="423.4" cy="339" r="0.5" fill="#e02020"/>
<line x1="420.6" y1="339.9" x2="420.6" y2="341.2" stroke="#666" stroke-width="0.45" />
<line x1="421.6" y1="339.9" x2="421.6" y2="341.2" stroke="#666" stroke-width="0.45" />
<line x1="422.6" y1="339.9" x2="422.6" y2="341.2" stroke="#666" stroke-width="0.45" />
<line x1="424.2" y1="339.9" x2="424.2" y2="341.2" stroke="#666" stroke-width="0.45" />
<line x1="425.2" y1="339.9" x2="425.2" y2="341.2" stroke="#666" stroke-width="0.45" />
<line x1="426.2" y1="339.9" x2="426.2" y2="341.2" stroke="#666" stroke-width="0.45" />
<g transform="translate(337.6,291.28) scale(0.4)">
<path d="M243,126.4 L201,126.4 A3.3,3.3 0 0,0 201,133 L231.75,133 A3.25,3.25 0 0,1 231.75,139.5 L211.1,139.5 A3.2,3.2 0 0,0 211.1,145.9 L218,145.9" stroke="#9b9797" stroke-width="2.2" fill="none" />
<line x1="204" y1="126.4" x2="231" y2="126.4" stroke="#c8b0dc" stroke-width="2.2" />
<path d="M218,145.9 A3.6,3.2 0 0,1 218,152.3" stroke="#3b9bd6" stroke-width="2.6" fill="none" />
<path d="M218.2,152.3 L212.5,152.3 L212.5,158.2 L218.2,158.2" stroke="#9b9797" stroke-width="2.2" fill="none" />
<path d="M218,158.2 A3.6,3.5 0 0,1 218,165.2" stroke="#3b9bd6" stroke-width="2.6" fill="none" />
<path d="M218.2,165.2 L212.5,165.2 L212.5,169.3 L218.2,169.3" stroke="#9b9797" stroke-width="2.2" fill="none" />
<path d="M218,169.3 A3.6,3.2 0 0,1 218,175.7" stroke="#3b9bd6" stroke-width="2.6" fill="none" />
<path d="M218.2,175.7 L212.8,175.7" stroke="#9b9797" stroke-width="2.2" fill="none" />
</g>
<text x="307.6" y="372" font-size="8.7" text-anchor="middle" fill="#1e1e1e" stroke="#1e1e1e" stroke-width="0.22" textLength="29" lengthAdjust="spacingAndGlyphs" >6.6-fold</text>
<text x="378.8" y="372" font-size="8.7" text-anchor="middle" fill="#1e1e1e" stroke="#1e1e1e" stroke-width="0.22" textLength="34.6" lengthAdjust="spacingAndGlyphs" >38.3-fold</text>
<rect x="297.4" y="477.9" width="8.3" height="40.3" fill="#fff" stroke="#222" stroke-width="1.15" />
<circle cx="299.85" cy="477.6" r="0.85" fill="#222"/>
<circle cx="301.55" cy="476.4" r="0.85" fill="#222"/>
<circle cx="303.25" cy="477.6" r="0.85" fill="#222"/>
<rect x="310.6" y="447.3" width="8.3" height="70.9" fill="#c6daf2" stroke="#222" stroke-width="1.15" />
<circle cx="313.05" cy="447" r="0.85" fill="#222"/>
<circle cx="314.75" cy="447" r="0.85" fill="#222"/>
<circle cx="316.45" cy="447" r="0.85" fill="#222"/>
<rect x="333.2" y="444.2" width="8.2" height="74" fill="#fff" stroke="#222" stroke-width="1.15" />
<circle cx="335.6" cy="443.9" r="0.85" fill="#222"/>
<circle cx="337.3" cy="442.7" r="0.85" fill="#222"/>
<circle cx="339" cy="443.9" r="0.85" fill="#222"/>
<rect x="346.4" y="415.1" width="8.2" height="103.1" fill="#c6daf2" stroke="#222" stroke-width="1.15" />
<circle cx="348.8" cy="414.8" r="0.85" fill="#222"/>
<circle cx="350.5" cy="414.8" r="0.85" fill="#222"/>
<circle cx="352.2" cy="414.8" r="0.85" fill="#222"/>
<rect x="368.9" y="476.4" width="8.2" height="41.8" fill="#fff" stroke="#222" stroke-width="1.15" />
<circle cx="371.3" cy="476.1" r="0.85" fill="#222"/>
<circle cx="373" cy="474.9" r="0.85" fill="#222"/>
<circle cx="374.7" cy="476.1" r="0.85" fill="#222"/>
<rect x="382.2" y="421.5" width="8.2" height="96.7" fill="#c6daf2" stroke="#222" stroke-width="1.15" />
<circle cx="384.6" cy="421.2" r="0.85" fill="#222"/>
<circle cx="386.3" cy="421.2" r="0.85" fill="#222"/>
<circle cx="388" cy="421.2" r="0.85" fill="#222"/>
<rect x="404.7" y="425.2" width="8.3" height="93" fill="#fff" stroke="#222" stroke-width="1.15" />
<circle cx="407.15" cy="424.9" r="0.85" fill="#222"/>
<circle cx="408.85" cy="423.7" r="0.85" fill="#222"/>
<circle cx="410.55" cy="424.9" r="0.85" fill="#222"/>
<rect x="417.9" y="409.2" width="8.3" height="109" fill="#c6daf2" stroke="#222" stroke-width="1.15" />
<circle cx="420.35" cy="408.9" r="0.85" fill="#222"/>
<circle cx="422.05" cy="408.9" r="0.85" fill="#222"/>
<circle cx="423.75" cy="408.9" r="0.85" fill="#222"/>
<line x1="292.6" y1="379.6" x2="292.6" y2="518.7" stroke="#222" stroke-width="1.25" />
<line x1="292" y1="518.2" x2="431" y2="518.2" stroke="#222" stroke-width="1.2" />
<rect x="290" y="492.8" width="141" height="6" fill="#fff"/>
<line x1="289.4" y1="492.6" x2="295.6" y2="492.6" stroke="#222" stroke-width="1.0" />
<line x1="289.4" y1="499" x2="295.6" y2="499" stroke="#222" stroke-width="1.0" />
<line x1="289.4" y1="380.1" x2="292.6" y2="380.1" stroke="#222" stroke-width="1.0" />
<text x="287.8" y="383.3" font-size="9.2" text-anchor="end" fill="#1e1e1e" stroke="#1e1e1e" stroke-width="0.22" >100,000</text>
<line x1="289.4" y1="414.5" x2="292.6" y2="414.5" stroke="#222" stroke-width="1.0" />
<text x="287.8" y="417.7" font-size="9.2" text-anchor="end" fill="#1e1e1e" stroke="#1e1e1e" stroke-width="0.22" >10,000</text>
<line x1="289.4" y1="448.6" x2="292.6" y2="448.6" stroke="#222" stroke-width="1.0" />
<text x="287.8" y="451.8" font-size="9.2" text-anchor="end" fill="#1e1e1e" stroke="#1e1e1e" stroke-width="0.22" >1,000</text>
<line x1="289.4" y1="482.8" x2="292.6" y2="482.8" stroke="#222" stroke-width="1.0" />
<text x="287.8" y="486" font-size="9.2" text-anchor="end" fill="#1e1e1e" stroke="#1e1e1e" stroke-width="0.22" >100</text>
<line x1="289.4" y1="518.1" x2="292.6" y2="518.1" stroke="#222" stroke-width="1.0" />
<text x="287.8" y="521.3" font-size="9.2" text-anchor="end" fill="#1e1e1e" stroke="#1e1e1e" stroke-width="0.22" >0</text>
<line x1="307.6" y1="518.2" x2="307.6" y2="521.4" stroke="#333" stroke-width="1.0" />
<line x1="343.4" y1="518.2" x2="343.4" y2="521.4" stroke="#333" stroke-width="1.0" />
<line x1="379.3" y1="518.2" x2="379.3" y2="521.4" stroke="#333" stroke-width="1.0" />
<line x1="415" y1="518.2" x2="415" y2="521.4" stroke="#333" stroke-width="1.0" />
<path d="M301.2,468.4 L301.2,383.1 L314.7,383.1 L314.7,438" stroke="#222" stroke-width="1.15" fill="none" />
<path d="M372.8,472.2 L372.8,383.1 L386.1,383.1 L386.1,415.3" stroke="#222" stroke-width="1.15" fill="none" />
<text x="307.8" y="383.1" font-size="8.2" text-anchor="middle" fill="#222" stroke="#222" stroke-width="0.22" >**</text>
<text x="379.2" y="383.1" font-size="8.2" text-anchor="middle" fill="#222" stroke="#222" stroke-width="0.22" >***</text>
<text transform="translate(311.55,528.6) rotate(-45)" font-size="9.1" text-anchor="end" fill="#1e1e1e" stroke="#1e1e1e" stroke-width="0.22" >mRNA</text>
<text transform="translate(324.75,528.6) rotate(-45)" font-size="9.1" text-anchor="end" fill="#1e1e1e" stroke="#1e1e1e" stroke-width="0.22" >tracrRNA-R2</text>
<text transform="translate(347.3,528.6) rotate(-45)" font-size="9.1" text-anchor="end" fill="#1e1e1e" stroke="#1e1e1e" stroke-width="0.22" >Fragmented mRNA-R2</text>
<text transform="translate(360.5,528.6) rotate(-45)" font-size="9.1" text-anchor="end" fill="#1e1e1e" stroke="#1e1e1e" stroke-width="0.22" >tracrRNA-R2</text>
<text transform="translate(383,528.6) rotate(-45)" font-size="9.1" text-anchor="end" fill="#1e1e1e" stroke="#1e1e1e" stroke-width="0.22" >mRNA</text>
<text transform="translate(396.3,528.6) rotate(-45)" font-size="9.1" text-anchor="end" fill="#1e1e1e" stroke="#1e1e1e" stroke-width="0.22" >s-tracrRNA-R2</text>
<text transform="translate(418.85,528.6) rotate(-45)" font-size="9.1" text-anchor="end" fill="#1e1e1e" stroke="#1e1e1e" stroke-width="0.22" >Fragmented mRNA-R2</text>
<text transform="translate(432.05,528.6) rotate(-45)" font-size="9.1" text-anchor="end" fill="#1e1e1e" stroke="#1e1e1e" stroke-width="0.22" >s-tracrRNA-R2</text>
<text transform="translate(246.8,454) rotate(-90)" font-size="9.2" text-anchor="middle" fill="#1e1e1e" stroke="#1e1e1e" stroke-width="0.22" textLength="103.4" lengthAdjust="spacingAndGlyphs">Fluorescence / <tspan font-style="italic">A</tspan><tspan font-style="italic" font-size="0.72em">600</tspan> (a.u.)</text>
</g>
<g id="panelE">
<g transform="translate(283.5,155)">
<circle cx="228.1" cy="216.3" r="13" fill="#e0ebf5"/>
<path d="M183.2,230.9 C189,234 196,237 203,236.4 C207,236 209.6,234.6 212,233" stroke="#c8b0dc" stroke-width="1.7" fill="none" stroke-dasharray="4.2,2.6"/>
<path d="M210.2,232.8 L248.4,198.6 C252,195 255.4,192.8 258.8,192.9 C264,193 265.4,201 268,207 C270,211.4 273,212.4 276.6,212.4 C279.6,212.4 282.4,212.4 283.4,215.6 C284.6,219 284.4,222 285.3,224.6" stroke="#c8b0dc" stroke-width="1.7" fill="none" />
<line x1="239.1" y1="201.5" x2="195.4" y2="240.2" stroke="#1a1a1a" stroke-width="1.3" />
<line x1="224.6" y1="214" x2="226.8" y2="212.1" stroke="#f6c6a6" stroke-width="1.7" />
<line x1="222.3" y1="222.3" x2="224.3" y2="220.6" stroke="#dd1a1f" stroke-width="1.9" />
<g transform="matrix(-0.4180,0.3575,0.3575,0.4180,277.294,88.647)">
<path d="M249,126.4 L205.55,126.4 A3.25,3.25 0 0,0 205.55,132.9 L239.95,132.9 A3.25,3.25 0 0,1 239.95,139.4 L216.45,139.4 A3.25,3.25 0 0,0 216.45,145.9 L223,145.9" stroke="#9b9797" stroke-width="3.5" fill="none" />
<line x1="220" y1="126.4" x2="243.4" y2="126.4" stroke="#c8b0dc" stroke-width="3.5" />
<path d="M223,145.9 A3.8,3.3 0 0,1 223,152.5" stroke="#3b9bd6" stroke-width="3.8" fill="none" />
<path d="M223.2,152.5 L214.6,152.5 L214.6,158.8 L223.2,158.8" stroke="#9b9797" stroke-width="3.5" fill="none" />
<path d="M223,158.8 A3.8,3.3 0 0,1 223,165.4" stroke="#3b9bd6" stroke-width="3.8" fill="none" />
<path d="M223.2,165.4 L214.6,165.4 L214.6,171.7 L223.2,171.7" stroke="#9b9797" stroke-width="3.5" fill="none" />
<path d="M223,171.7 A3.8,3.3 0 0,1 223,178.3" stroke="#3b9bd6" stroke-width="3.8" fill="none" />
<path d="M223.2,178.3 L214.6,178.3" stroke="#9b9797" stroke-width="3.5" fill="none" />
</g>
<path d="M-1.9,-1.3 C-0.7,-0.5 0.7,-0.5 1.9,-1.3 C1.7,0.7 0.8,1.5 0,2.2 C-0.8,1.5 -1.7,0.7 -1.9,-1.3 Z" fill="#2f8ecb" stroke="#16202a" stroke-width="0.6" transform="translate(227.2,236.2) rotate(-30)"/>
<path d="M-1.9,-1.3 C-0.7,-0.5 0.7,-0.5 1.9,-1.3 C1.7,0.7 0.8,1.5 0,2.2 C-0.8,1.5 -1.7,0.7 -1.9,-1.3 Z" fill="#2f8ecb" stroke="#16202a" stroke-width="0.6" transform="translate(230,237.4) rotate(10)"/>
<path d="M-1.9,-1.3 C-0.7,-0.5 0.7,-0.5 1.9,-1.3 C1.7,0.7 0.8,1.5 0,2.2 C-0.8,1.5 -1.7,0.7 -1.9,-1.3 Z" fill="#2f8ecb" stroke="#16202a" stroke-width="0.6" transform="translate(234,234) rotate(-35)"/>
<path d="M-1.9,-1.3 C-0.7,-0.5 0.7,-0.5 1.9,-1.3 C1.7,0.7 0.8,1.5 0,2.2 C-0.8,1.5 -1.7,0.7 -1.9,-1.3 Z" fill="#2f8ecb" stroke="#16202a" stroke-width="0.6" transform="translate(235.6,236.8) rotate(20)"/>
<path d="M-1.9,-1.3 C-0.7,-0.5 0.7,-0.5 1.9,-1.3 C1.7,0.7 0.8,1.5 0,2.2 C-0.8,1.5 -1.7,0.7 -1.9,-1.3 Z" fill="#2f8ecb" stroke="#16202a" stroke-width="0.6" transform="translate(233.4,239.8) rotate(-20)"/>
<path d="M-1.9,-1.3 C-0.7,-0.5 0.7,-0.5 1.9,-1.3 C1.7,0.7 0.8,1.5 0,2.2 C-0.8,1.5 -1.7,0.7 -1.9,-1.3 Z" fill="#2f8ecb" stroke="#16202a" stroke-width="0.6" transform="translate(239.2,240.6) rotate(-30)"/>
<path d="M-1.9,-1.3 C-0.7,-0.5 0.7,-0.5 1.9,-1.3 C1.7,0.7 0.8,1.5 0,2.2 C-0.8,1.5 -1.7,0.7 -1.9,-1.3 Z" fill="#2f8ecb" stroke="#16202a" stroke-width="0.6" transform="translate(239.6,245.6) rotate(10)"/>
<path d="M-1.9,-1.3 C-0.7,-0.5 0.7,-0.5 1.9,-1.3 C1.7,0.7 0.8,1.5 0,2.2 C-0.8,1.5 -1.7,0.7 -1.9,-1.3 Z" fill="#2f8ecb" stroke="#16202a" stroke-width="0.6" transform="translate(243.4,244.2) rotate(-30)"/>
<ellipse cx="225.6" cy="246.0" rx="3.4" ry="6.9" fill="#ea7a21" stroke="#2a1a10" stroke-width="0.9" transform="rotate(30 225.6 246.0)"/>
<ellipse cx="233.4" cy="247.0" rx="3.4" ry="6.9" fill="#ea7a21" stroke="#2a1a10" stroke-width="0.9" transform="rotate(34 233.4 247.0)"/>
<ellipse cx="229.5" cy="248.1" rx="3.4" ry="6.9" fill="#ea7a21" stroke="#2a1a10" stroke-width="0.9" transform="rotate(32 229.5 248.1)"/>
</g>
<g transform="translate(387.2,153.3)">
<circle cx="228.1" cy="216.3" r="13" fill="#e0ebf5"/>
<line x1="213.9" y1="229.2" x2="242.6" y2="203.6" stroke="#c8b0dc" stroke-width="1.7" />
<line x1="239.1" y1="201.5" x2="195.4" y2="240.2" stroke="#1a1a1a" stroke-width="1.3" />
<line x1="224.6" y1="214" x2="226.8" y2="212.1" stroke="#f6c6a6" stroke-width="1.7" />
<line x1="222.3" y1="222.3" x2="224.3" y2="220.6" stroke="#dd1a1f" stroke-width="1.9" />
<g transform="matrix(-0.4180,0.3575,0.3575,0.4180,277.294,88.647)">
<path d="M249,126.4 L205.55,126.4 A3.25,3.25 0 0,0 205.55,132.9 L239.95,132.9 A3.25,3.25 0 0,1 239.95,139.4 L216.45,139.4 A3.25,3.25 0 0,0 216.45,145.9 L223,145.9" stroke="#9b9797" stroke-width="3.5" fill="none" />
<line x1="220" y1="126.4" x2="243.4" y2="126.4" stroke="#c8b0dc" stroke-width="3.5" />
<path d="M223,145.9 A3.8,3.3 0 0,1 223,152.5" stroke="#3b9bd6" stroke-width="3.8" fill="none" />
<path d="M223.2,152.5 L214.6,152.5 L214.6,158.8 L223.2,158.8" stroke="#9b9797" stroke-width="3.5" fill="none" />
<path d="M223,158.8 A3.8,3.3 0 0,1 223,165.4" stroke="#3b9bd6" stroke-width="3.8" fill="none" />
<path d="M223.2,165.4 L214.6,165.4 L214.6,171.7 L223.2,171.7" stroke="#9b9797" stroke-width="3.5" fill="none" />
<path d="M223,171.7 A3.8,3.3 0 0,1 223,178.3" stroke="#3b9bd6" stroke-width="3.8" fill="none" />
<path d="M223.2,178.3 L214.6,178.3" stroke="#9b9797" stroke-width="3.5" fill="none" />
</g>
<path d="M-1.9,-1.3 C-0.7,-0.5 0.7,-0.5 1.9,-1.3 C1.7,0.7 0.8,1.5 0,2.2 C-0.8,1.5 -1.7,0.7 -1.9,-1.3 Z" fill="#2f8ecb" stroke="#16202a" stroke-width="0.6" transform="translate(227.2,236.2) rotate(-30)"/>
<path d="M-1.9,-1.3 C-0.7,-0.5 0.7,-0.5 1.9,-1.3 C1.7,0.7 0.8,1.5 0,2.2 C-0.8,1.5 -1.7,0.7 -1.9,-1.3 Z" fill="#2f8ecb" stroke="#16202a" stroke-width="0.6" transform="translate(230,237.4) rotate(10)"/>
<path d="M-1.9,-1.3 C-0.7,-0.5 0.7,-0.5 1.9,-1.3 C1.7,0.7 0.8,1.5 0,2.2 C-0.8,1.5 -1.7,0.7 -1.9,-1.3 Z" fill="#2f8ecb" stroke="#16202a" stroke-width="0.6" transform="translate(234,234) rotate(-35)"/>
<path d="M-1.9,-1.3 C-0.7,-0.5 0.7,-0.5 1.9,-1.3 C1.7,0.7 0.8,1.5 0,2.2 C-0.8,1.5 -1.7,0.7 -1.9,-1.3 Z" fill="#2f8ecb" stroke="#16202a" stroke-width="0.6" transform="translate(235.6,236.8) rotate(20)"/>
<path d="M-1.9,-1.3 C-0.7,-0.5 0.7,-0.5 1.9,-1.3 C1.7,0.7 0.8,1.5 0,2.2 C-0.8,1.5 -1.7,0.7 -1.9,-1.3 Z" fill="#2f8ecb" stroke="#16202a" stroke-width="0.6" transform="translate(233.4,239.8) rotate(-20)"/>
<path d="M-1.9,-1.3 C-0.7,-0.5 0.7,-0.5 1.9,-1.3 C1.7,0.7 0.8,1.5 0,2.2 C-0.8,1.5 -1.7,0.7 -1.9,-1.3 Z" fill="#2f8ecb" stroke="#16202a" stroke-width="0.6" transform="translate(239.2,240.6) rotate(-30)"/>
<path d="M-1.9,-1.3 C-0.7,-0.5 0.7,-0.5 1.9,-1.3 C1.7,0.7 0.8,1.5 0,2.2 C-0.8,1.5 -1.7,0.7 -1.9,-1.3 Z" fill="#2f8ecb" stroke="#16202a" stroke-width="0.6" transform="translate(239.6,245.6) rotate(10)"/>
<path d="M-1.9,-1.3 C-0.7,-0.5 0.7,-0.5 1.9,-1.3 C1.7,0.7 0.8,1.5 0,2.2 C-0.8,1.5 -1.7,0.7 -1.9,-1.3 Z" fill="#2f8ecb" stroke="#16202a" stroke-width="0.6" transform="translate(243.4,244.2) rotate(-30)"/>
<ellipse cx="225.6" cy="246.0" rx="3.4" ry="6.9" fill="#ea7a21" stroke="#2a1a10" stroke-width="0.9" transform="rotate(30 225.6 246.0)"/>
<ellipse cx="233.4" cy="247.0" rx="3.4" ry="6.9" fill="#ea7a21" stroke="#2a1a10" stroke-width="0.9" transform="rotate(34 233.4 247.0)"/>
<ellipse cx="229.5" cy="248.1" rx="3.4" ry="6.9" fill="#ea7a21" stroke="#2a1a10" stroke-width="0.9" transform="rotate(32 229.5 248.1)"/>
</g>
<text x="511.2" y="432.4" font-size="9.2" text-anchor="middle" fill="#1e1e1e" stroke="#1e1e1e" stroke-width="0.22" textLength="27.3" lengthAdjust="spacingAndGlyphs" >mRNA</text>
<text x="614.2" y="432.4" font-size="9.2" text-anchor="middle" fill="#1e1e1e" stroke="#1e1e1e" stroke-width="0.22" textLength="26.8" lengthAdjust="spacingAndGlyphs" >crRNA</text>
<rect x="483.3" y="439.8" width="28.4" height="28.5" fill="#1d1631" shape-rendering="crispEdges"/>
<rect x="511.4" y="439.8" width="28.4" height="28.5" fill="#140f24" shape-rendering="crispEdges"/>
<rect x="483.3" y="468" width="28.4" height="28.5" fill="#832681" shape-rendering="crispEdges"/>
<rect x="511.4" y="468" width="28.4" height="28.5" fill="#e95462" shape-rendering="crispEdges"/>
<rect x="483.3" y="496.2" width="28.4" height="28.5" fill="#b6377a" shape-rendering="crispEdges"/>
<rect x="511.4" y="496.2" width="28.4" height="28.5" fill="#b6377a" shape-rendering="crispEdges"/>
<rect x="483.3" y="439.8" width="56.2" height="84.6" fill="none" stroke="#222" stroke-width="1.0" />
<rect x="586.3" y="439.8" width="29" height="28.5" fill="#f1885d" shape-rendering="crispEdges"/>
<rect x="615" y="439.8" width="29" height="28.5" fill="#c53c74" shape-rendering="crispEdges"/>
<rect x="586.3" y="468" width="29" height="28.5" fill="#fcf2b4" shape-rendering="crispEdges"/>
<rect x="615" y="468" width="29" height="28.5" fill="#d5446d" shape-rendering="crispEdges"/>
<rect x="586.3" y="496.2" width="29" height="28.5" fill="#5b2a7c" shape-rendering="crispEdges"/>
<rect x="615" y="496.2" width="29" height="28.5" fill="#5b2a7c" shape-rendering="crispEdges"/>
<rect x="586.3" y="439.8" width="57.4" height="84.6" fill="none" stroke="#222" stroke-width="1.0" />
<line x1="480.6" y1="453.9" x2="483.3" y2="453.9" stroke="#333" stroke-width="1.0" />
<text x="479.6" y="456.3" font-size="8.8" text-anchor="end" fill="#1e1e1e" stroke="#1e1e1e" stroke-width="0.22" >R1</text>
<line x1="583.6" y1="453.9" x2="586.3" y2="453.9" stroke="#333" stroke-width="1.0" />
<text x="582.4" y="456.3" font-size="8.8" text-anchor="end" fill="#1e1e1e" stroke="#1e1e1e" stroke-width="0.22" >R1</text>
<line x1="480.6" y1="482.1" x2="483.3" y2="482.1" stroke="#333" stroke-width="1.0" />
<text x="479.6" y="484.5" font-size="8.8" text-anchor="end" fill="#1e1e1e" stroke="#1e1e1e" stroke-width="0.22" >R2</text>
<line x1="583.6" y1="482.1" x2="586.3" y2="482.1" stroke="#333" stroke-width="1.0" />
<text x="582.4" y="484.5" font-size="8.8" text-anchor="end" fill="#1e1e1e" stroke="#1e1e1e" stroke-width="0.22" >R2</text>
<line x1="480.6" y1="510.3" x2="483.3" y2="510.3" stroke="#333" stroke-width="1.0" />
<text x="479.6" y="512.7" font-size="8.8" text-anchor="end" fill="#1e1e1e" stroke="#1e1e1e" stroke-width="0.22" >R3</text>
<line x1="583.6" y1="510.3" x2="586.3" y2="510.3" stroke="#333" stroke-width="1.0" />
<text x="582.4" y="512.7" font-size="8.8" text-anchor="end" fill="#1e1e1e" stroke="#1e1e1e" stroke-width="0.22" >R3</text>
<line x1="497.35" y1="524.4" x2="497.35" y2="527" stroke="#333" stroke-width="1.0" />
<text transform="translate(501.15,533.4) rotate(-45)" font-size="9.1" text-anchor="end" fill="#1e1e1e" stroke="#1e1e1e" stroke-width="0.22" >tracrRNA</text>
<line x1="525.45" y1="524.4" x2="525.45" y2="527" stroke="#333" stroke-width="1.0" />
<text transform="translate(529.25,533.4) rotate(-45)" font-size="9.1" text-anchor="end" fill="#1e1e1e" stroke="#1e1e1e" stroke-width="0.22" >s-tracrRNA</text>
<line x1="600.65" y1="524.4" x2="600.65" y2="527" stroke="#333" stroke-width="1.0" />
<text transform="translate(604.45,533.4) rotate(-45)" font-size="9.1" text-anchor="end" fill="#1e1e1e" stroke="#1e1e1e" stroke-width="0.22" >tracrRNA</text>
<line x1="629.35" y1="524.4" x2="629.35" y2="527" stroke="#333" stroke-width="1.0" />
<text transform="translate(633.15,533.4) rotate(-45)" font-size="9.1" text-anchor="end" fill="#1e1e1e" stroke="#1e1e1e" stroke-width="0.22" >s-tracrRNA</text>
<rect x="546.8" y="439.8" width="7.4" height="84.6" fill="url(#magma)" stroke="#222" stroke-width="0.9" />
<rect x="650.3" y="439.8" width="7.2" height="84.6" fill="url(#magma)" stroke="#222" stroke-width="0.9" />
<line x1="552.6" y1="524.4" x2="554.4" y2="524.4" stroke="#333" stroke-width="0.8" />
<line x1="546.8" y1="524.4" x2="548.4" y2="524.4" stroke="#333" stroke-width="0.8" />
<text x="556.9" y="526.5" font-size="8.8" fill="#1e1e1e" stroke="#1e1e1e" stroke-width="0.22" >0</text>
<line x1="552.6" y1="482.1" x2="554.4" y2="482.1" stroke="#333" stroke-width="0.8" />
<line x1="546.8" y1="482.1" x2="548.4" y2="482.1" stroke="#333" stroke-width="0.8" />
<text x="556.9" y="484.2" font-size="8.8" fill="#1e1e1e" stroke="#1e1e1e" stroke-width="0.22" >1</text>
<line x1="552.6" y1="439.8" x2="554.4" y2="439.8" stroke="#333" stroke-width="0.8" />
<line x1="546.8" y1="439.8" x2="548.4" y2="439.8" stroke="#333" stroke-width="0.8" />
<text x="556.9" y="441.9" font-size="8.8" fill="#1e1e1e" stroke="#1e1e1e" stroke-width="0.22" >2</text>
<line x1="655.8" y1="524.4" x2="657.6" y2="524.4" stroke="#333" stroke-width="0.8" />
<line x1="650.3" y1="524.4" x2="651.9" y2="524.4" stroke="#333" stroke-width="0.8" />
<text x="660.3" y="526.3" font-size="8.8" fill="#1e1e1e" stroke="#1e1e1e" stroke-width="0.22" >0</text>
<line x1="655.8" y1="503.25" x2="657.6" y2="503.25" stroke="#333" stroke-width="0.8" />
<line x1="650.3" y1="503.25" x2="651.9" y2="503.25" stroke="#333" stroke-width="0.8" />
<text x="660.3" y="505.15" font-size="8.8" fill="#1e1e1e" stroke="#1e1e1e" stroke-width="0.22" >1</text>
<line x1="655.8" y1="482.1" x2="657.6" y2="482.1" stroke="#333" stroke-width="0.8" />
<line x1="650.3" y1="482.1" x2="651.9" y2="482.1" stroke="#333" stroke-width="0.8" />
<text x="660.3" y="484" font-size="8.8" fill="#1e1e1e" stroke="#1e1e1e" stroke-width="0.22" >2</text>
<line x1="655.8" y1="460.95" x2="657.6" y2="460.95" stroke="#333" stroke-width="0.8" />
<line x1="650.3" y1="460.95" x2="651.9" y2="460.95" stroke="#333" stroke-width="0.8" />
<text x="660.3" y="462.85" font-size="8.8" fill="#1e1e1e" stroke="#1e1e1e" stroke-width="0.22" >3</text>
<line x1="655.8" y1="439.8" x2="657.6" y2="439.8" stroke="#333" stroke-width="0.8" />
<line x1="650.3" y1="439.8" x2="651.9" y2="439.8" stroke="#333" stroke-width="0.8" />
<text x="660.3" y="441.7" font-size="8.8" fill="#1e1e1e" stroke="#1e1e1e" stroke-width="0.22" >4</text>
<text transform="translate(682.4,467.4) rotate(-90)" font-size="9.2" text-anchor="middle" fill="#1e1e1e" stroke="#1e1e1e" stroke-width="0.22" textLength="125.7" lengthAdjust="spacingAndGlyphs">Nomalized Fluorescence (a.u.)</text>
</g>
<g id="panelF">
<text x="21.5" y="639.4" font-size="9.2" fill="#1e1e1e" stroke="#1e1e1e" stroke-width="0.22" >CRISPRa</text>
<text x="21.5" y="650.35" font-size="9.2" fill="#1e1e1e" stroke="#1e1e1e" stroke-width="0.22" >(dCas9,</text>
<text x="21.5" y="661.3" font-size="9.2" fill="#1e1e1e" stroke="#1e1e1e" stroke-width="0.22" >Basal activator,</text>
<text x="21.5" y="672.25" font-size="9.2" fill="#1e1e1e" stroke="#1e1e1e" stroke-width="0.22" >tracrRNA)</text>
<path d="M69.6,636.3 L95.8,636.3 L95.8,664" stroke="#1a1a1a" stroke-width="1.3" fill="none" />
<path d="M92.8,661 L95.8,665.2 L98.8,661" stroke="#1a1a1a" stroke-width="1.3" fill="none" />
<line x1="86.9" y1="677.6" x2="153" y2="677.6" stroke="#1a1a1a" stroke-width="1.3" />
<path d="M91.8,677.6 L91.8,671.3 L100.4,671.3" stroke="#1a1a1a" stroke-width="1.3" fill="none" />
<path d="M97.8,668.7 L101,671.3 L97.8,673.9" stroke="#1a1a1a" stroke-width="1.3" fill="none" />
<path d="M103.3,677.6 A6.2,6.2 0 0,1 115.7,677.6" stroke="#1a1a1a" stroke-width="1.3" fill="#fff" />
<rect x="120.4" y="672.6" width="10.4" height="9.7" fill="#21a34a" stroke="#1a1a1a" stroke-width="1.2" />
<line x1="139" y1="677.6" x2="139" y2="670.6" stroke="#1a1a1a" stroke-width="1.3" />
<line x1="134.6" y1="670.6" x2="143.4" y2="670.6" stroke="#1a1a1a" stroke-width="1.3" />
<text x="125.8" y="692.1" font-size="9.2" text-anchor="middle" fill="#1e1e1e" stroke="#1e1e1e" stroke-width="0.22" font-style="italic" textLength="19.6" lengthAdjust="spacingAndGlyphs" >sfgfp</text>
<line x1="24.4" y1="698.5" x2="243.4" y2="698.5" stroke="#1a1a1a" stroke-width="1.1" stroke-dasharray="5.2,3.1"/>
<text x="21.5" y="720" font-size="9.2" fill="#1e1e1e" stroke="#1e1e1e" stroke-width="0.22" >CRISPRa</text>
<text x="21.5" y="730.95" font-size="9.2" fill="#1e1e1e" stroke="#1e1e1e" stroke-width="0.22" >(dCas9,</text>
<text x="21.5" y="741.9" font-size="9.2" fill="#1e1e1e" stroke="#1e1e1e" stroke-width="0.22" >Basal activator,</text>
<text x="21.5" y="752.85" font-size="9.2" fill="#1e1e1e" stroke="#1e1e1e" stroke-width="0.22" >tracrRNA)</text>
<path d="M70.5,718 L96.4,718 L96.4,730" stroke="#1a1a1a" stroke-width="1.3" fill="none" />
<path d="M93.4,727 L96.4,731.2 L99.4,727" stroke="#1a1a1a" stroke-width="1.3" fill="none" />
<path d="M96.4,747.6 L96.4,733.7 L183.7,733.7 L183.7,754.5" stroke="#1a1a1a" stroke-width="1.3" fill="none" />
<path d="M93.4,744.6 L96.4,748.8 L99.4,744.6" stroke="#1a1a1a" stroke-width="1.3" fill="none" />
<line x1="153.5" y1="733.7" x2="153.5" y2="747.6" stroke="#1a1a1a" stroke-width="1.3" />
<path d="M150.5,744.6 L153.5,748.8 L156.5,744.6" stroke="#1a1a1a" stroke-width="1.3" fill="none" />
<text x="140.2" y="729.7" font-size="9.2" text-anchor="middle" fill="#1e1e1e" stroke="#1e1e1e" stroke-width="0.22" textLength="17.4" lengthAdjust="spacingAndGlyphs" >PFB</text>
<line x1="87.3" y1="759.2" x2="206.5" y2="759.2" stroke="#1a1a1a" stroke-width="1.3" />
<path d="M92.3,759.2 L92.3,752.4 L101.8,752.4" stroke="#1a1a1a" stroke-width="1.3" fill="none" />
<path d="M99.2,749.8 L102.4,752.4 L99.2,755" stroke="#1a1a1a" stroke-width="1.3" fill="none" />
<path d="M103.5,759.2 A6.5,6.5 0 0,1 116.5,759.2" stroke="#1a1a1a" stroke-width="1.3" fill="#fff" />
<rect x="120.3" y="754.5" width="11.2" height="9.6" fill="#21a34a" stroke="#1a1a1a" stroke-width="1.2" />
<line x1="138.7" y1="759.2" x2="138.7" y2="752.2" stroke="#1a1a1a" stroke-width="1.3" />
<line x1="134.2" y1="752.2" x2="143.2" y2="752.2" stroke="#1a1a1a" stroke-width="1.3" />
<path d="M150.1,759.2 L150.1,752.4 L159.6,752.4" stroke="#1a1a1a" stroke-width="1.3" fill="none" />
<path d="M157,749.8 L160.2,752.4 L157,755" stroke="#1a1a1a" stroke-width="1.3" fill="none" />
<path d="M161.3,759.2 A6.6,6.6 0 0,1 174.5,759.2" stroke="#1a1a1a" stroke-width="1.3" fill="#fff" />
<rect x="178.1" y="754.5" width="11" height="9.6" fill="#fff" stroke="#1a1a1a" stroke-width="1.2" />
<line x1="196.4" y1="759.2" x2="196.4" y2="752.2" stroke="#1a1a1a" stroke-width="1.3" />
<line x1="192" y1="752.2" x2="200.8" y2="752.2" stroke="#1a1a1a" stroke-width="1.3" />
<text x="125.9" y="774" font-size="9.2" text-anchor="middle" fill="#1e1e1e" stroke="#1e1e1e" stroke-width="0.22" font-style="italic" textLength="19.8" lengthAdjust="spacingAndGlyphs" >sfgfp</text>
<text x="181.8" y="774" font-size="9.2" text-anchor="middle" fill="#1e1e1e" stroke="#1e1e1e" stroke-width="0.22" textLength="34.6" lengthAdjust="spacingAndGlyphs" >activator</text>
<rect x="249.1" y="648.7" width="24.5" height="24.55" fill="#020204" shape-rendering="crispEdges"/>
<rect x="273.3" y="648.7" width="24.5" height="24.55" fill="#5b257b" shape-rendering="crispEdges"/>
<rect x="297.5" y="648.7" width="24.5" height="24.55" fill="#8a2a81" shape-rendering="crispEdges"/>
<rect x="321.7" y="648.7" width="24.5" height="24.55" fill="#a7327d" shape-rendering="crispEdges"/>
<rect x="345.9" y="648.7" width="24.5" height="24.55" fill="#c43c75" shape-rendering="crispEdges"/>
<rect x="370.1" y="648.7" width="24.5" height="24.55" fill="#d6456c" shape-rendering="crispEdges"/>
<rect x="249.1" y="672.95" width="24.5" height="24.55" fill="#020204" shape-rendering="crispEdges"/>
<rect x="273.3" y="672.95" width="24.5" height="24.55" fill="#442a72" shape-rendering="crispEdges"/>
<rect x="297.5" y="672.95" width="24.5" height="24.55" fill="#6f2080" shape-rendering="crispEdges"/>
<rect x="321.7" y="672.95" width="24.5" height="24.55" fill="#7d2482" shape-rendering="crispEdges"/>
<rect x="345.9" y="672.95" width="24.5" height="24.55" fill="#87277f" shape-rendering="crispEdges"/>
<rect x="370.1" y="672.95" width="24.5" height="24.55" fill="#8f297f" shape-rendering="crispEdges"/>
<rect x="249.1" y="697.2" width="24.5" height="24.55" fill="#020204" shape-rendering="crispEdges"/>
<rect x="273.3" y="697.2" width="24.5" height="24.55" fill="#8a2781" shape-rendering="crispEdges"/>
<rect x="297.5" y="697.2" width="24.5" height="24.55" fill="#e95462" shape-rendering="crispEdges"/>
<rect x="321.7" y="697.2" width="24.5" height="24.55" fill="#f2855d" shape-rendering="crispEdges"/>
<rect x="345.9" y="697.2" width="24.5" height="24.55" fill="#f8b77e" shape-rendering="crispEdges"/>
<rect x="370.1" y="697.2" width="24.5" height="24.55" fill="#fde3a5" shape-rendering="crispEdges"/>
<rect x="249.1" y="721.45" width="24.5" height="24.55" fill="#020204" shape-rendering="crispEdges"/>
<rect x="273.3" y="721.45" width="24.5" height="24.55" fill="#a7327d" shape-rendering="crispEdges"/>
<rect x="297.5" y="721.45" width="24.5" height="24.55" fill="#ec5860" shape-rendering="crispEdges"/>
<rect x="321.7" y="721.45" width="24.5" height="24.55" fill="#f1895e" shape-rendering="crispEdges"/>
<rect x="345.9" y="721.45" width="24.5" height="24.55" fill="#f7aa74" shape-rendering="crispEdges"/>
<rect x="370.1" y="721.45" width="24.5" height="24.55" fill="#fbd092" shape-rendering="crispEdges"/>
<rect x="249.1" y="648.7" width="145.2" height="97" fill="none" stroke="#222" stroke-width="1.0" />
<line x1="246" y1="660.83" x2="249.1" y2="660.83" stroke="#333" stroke-width="1.0" />
<text x="244.6" y="664.03" font-size="8.8" text-anchor="end" fill="#1e1e1e" stroke="#1e1e1e" stroke-width="0.22" >R2</text>
<line x1="246" y1="685.08" x2="249.1" y2="685.08" stroke="#333" stroke-width="1.0" />
<text x="244.6" y="688.28" font-size="8.8" text-anchor="end" fill="#1e1e1e" stroke="#1e1e1e" stroke-width="0.22" >R3</text>
<line x1="246" y1="709.33" x2="249.1" y2="709.33" stroke="#333" stroke-width="1.0" />
<text x="244.6" y="712.53" font-size="8.8" text-anchor="end" fill="#1e1e1e" stroke="#1e1e1e" stroke-width="0.22" >R2</text>
<line x1="246" y1="733.58" x2="249.1" y2="733.58" stroke="#333" stroke-width="1.0" />
<text x="244.6" y="736.78" font-size="8.8" text-anchor="end" fill="#1e1e1e" stroke="#1e1e1e" stroke-width="0.22" >R3</text>
<line x1="229.3" y1="704.3" x2="229.3" y2="737.6" stroke="#222" stroke-width="1.5" />
<text transform="translate(224,720.8) rotate(-90)" font-size="8.8" text-anchor="middle" fill="#1e1e1e" stroke="#1e1e1e" stroke-width="0.22" >PFB</text>
<line x1="261.2" y1="745.7" x2="261.2" y2="748.8" stroke="#333" stroke-width="1.0" />
<text transform="translate(264.8,755.4) rotate(-45)" font-size="8.8" text-anchor="end" fill="#1e1e1e" stroke="#1e1e1e" stroke-width="0.22" >0.000</text>
<line x1="285.4" y1="745.7" x2="285.4" y2="748.8" stroke="#333" stroke-width="1.0" />
<text transform="translate(289,755.4) rotate(-45)" font-size="8.8" text-anchor="end" fill="#1e1e1e" stroke="#1e1e1e" stroke-width="0.22" >0.013</text>
<line x1="309.6" y1="745.7" x2="309.6" y2="748.8" stroke="#333" stroke-width="1.0" />
<text transform="translate(313.2,755.4) rotate(-45)" font-size="8.8" text-anchor="end" fill="#1e1e1e" stroke="#1e1e1e" stroke-width="0.22" >0.025</text>
<line x1="333.8" y1="745.7" x2="333.8" y2="748.8" stroke="#333" stroke-width="1.0" />
<text transform="translate(337.4,755.4) rotate(-45)" font-size="8.8" text-anchor="end" fill="#1e1e1e" stroke="#1e1e1e" stroke-width="0.22" >0.050</text>
<line x1="358" y1="745.7" x2="358" y2="748.8" stroke="#333" stroke-width="1.0" />
<text transform="translate(361.6,755.4) rotate(-45)" font-size="8.8" text-anchor="end" fill="#1e1e1e" stroke="#1e1e1e" stroke-width="0.22" >0.100</text>
<line x1="382.2" y1="745.7" x2="382.2" y2="748.8" stroke="#333" stroke-width="1.0" />
<text transform="translate(385.8,755.4) rotate(-45)" font-size="8.8" text-anchor="end" fill="#1e1e1e" stroke="#1e1e1e" stroke-width="0.22" >0.200</text>
<text x="322.6" y="785.4" font-size="9.2" text-anchor="middle" fill="#1e1e1e" stroke="#1e1e1e" stroke-width="0.22" textLength="39.7" lengthAdjust="spacingAndGlyphs" >AHL (µM)</text>
<rect x="402.6" y="649.2" width="9" height="96.5" fill="url(#magma)" stroke="#222" stroke-width="0.9" />
<line x1="410" y1="745.7" x2="411.6" y2="745.7" stroke="#333" stroke-width="0.8" />
<line x1="402.6" y1="745.7" x2="404.2" y2="745.7" stroke="#333" stroke-width="0.8" />
<text x="414.9" y="748.3" font-size="8.95" fill="#1e1e1e" stroke="#1e1e1e" stroke-width="0.22" >0</text>
<line x1="410" y1="726.5" x2="411.6" y2="726.5" stroke="#333" stroke-width="0.8" />
<line x1="402.6" y1="726.5" x2="404.2" y2="726.5" stroke="#333" stroke-width="0.8" />
<text x="414.9" y="729.1" font-size="8.95" fill="#1e1e1e" stroke="#1e1e1e" stroke-width="0.22" >2,000</text>
<line x1="410" y1="707.3" x2="411.6" y2="707.3" stroke="#333" stroke-width="0.8" />
<line x1="402.6" y1="707.3" x2="404.2" y2="707.3" stroke="#333" stroke-width="0.8" />
<text x="414.9" y="709.9" font-size="8.95" fill="#1e1e1e" stroke="#1e1e1e" stroke-width="0.22" >4,000</text>
<line x1="410" y1="688.1" x2="411.6" y2="688.1" stroke="#333" stroke-width="0.8" />
<line x1="402.6" y1="688.1" x2="404.2" y2="688.1" stroke="#333" stroke-width="0.8" />
<text x="414.9" y="690.7" font-size="8.95" fill="#1e1e1e" stroke="#1e1e1e" stroke-width="0.22" >6,000</text>
<line x1="410" y1="668.9" x2="411.6" y2="668.9" stroke="#333" stroke-width="0.8" />
<line x1="402.6" y1="668.9" x2="404.2" y2="668.9" stroke="#333" stroke-width="0.8" />
<text x="414.9" y="671.5" font-size="8.95" fill="#1e1e1e" stroke="#1e1e1e" stroke-width="0.22" >8,000</text>
<line x1="410" y1="649.7" x2="411.6" y2="649.7" stroke="#333" stroke-width="0.8" />
<line x1="402.6" y1="649.7" x2="404.2" y2="649.7" stroke="#333" stroke-width="0.8" />
<text x="414.9" y="652.3" font-size="8.95" fill="#1e1e1e" stroke="#1e1e1e" stroke-width="0.22" >10,000</text>
<text transform="translate(456.2,696.9) rotate(-90)" font-size="9.2" text-anchor="middle" fill="#1e1e1e" stroke="#1e1e1e" stroke-width="0.22" textLength="103.5" lengthAdjust="spacingAndGlyphs">Fluorescence /<tspan font-style="italic">A</tspan><tspan font-style="italic" font-size="0.72em">600</tspan> (a.u.)</text>
</g>
<g id="panelG">
<rect x="536.6" y="677.2" width="19.1" height="83.2" fill="#e2e2e2" stroke="#2a2a2a" stroke-width="1.2" />
<line x1="546.15" y1="671.6" x2="546.15" y2="682.4" stroke="#2a2a2a" stroke-width="0.9" />
<line x1="541.35" y1="671.6" x2="550.95" y2="671.6" stroke="#2a2a2a" stroke-width="0.9" />
<line x1="541.35" y1="682.4" x2="550.95" y2="682.4" stroke="#2a2a2a" stroke-width="0.9" />
<rect x="566.8" y="647.1" width="19.2" height="113.3" fill="#e2e2e2" stroke="#2a2a2a" stroke-width="1.2" />
<line x1="576.4" y1="636.1" x2="576.4" y2="657.4" stroke="#2a2a2a" stroke-width="0.9" />
<line x1="571.6" y1="636.1" x2="581.2" y2="636.1" stroke="#2a2a2a" stroke-width="0.9" />
<line x1="571.6" y1="657.4" x2="581.2" y2="657.4" stroke="#2a2a2a" stroke-width="0.9" />
<rect x="596.6" y="713.3" width="19.4" height="47.1" fill="#e2e2e2" stroke="#2a2a2a" stroke-width="1.2" />
<line x1="606.3" y1="705.8" x2="606.3" y2="719.9" stroke="#2a2a2a" stroke-width="0.9" />
<line x1="601.5" y1="705.8" x2="611.1" y2="705.8" stroke="#2a2a2a" stroke-width="0.9" />
<line x1="601.5" y1="719.9" x2="611.1" y2="719.9" stroke="#2a2a2a" stroke-width="0.9" />
<rect x="627" y="667.2" width="19.4" height="93.2" fill="#e2e2e2" stroke="#2a2a2a" stroke-width="1.2" />
<line x1="636.7" y1="651.2" x2="636.7" y2="682.5" stroke="#2a2a2a" stroke-width="0.9" />
<line x1="631.9" y1="651.2" x2="641.5" y2="651.2" stroke="#2a2a2a" stroke-width="0.9" />
<line x1="631.9" y1="682.5" x2="641.5" y2="682.5" stroke="#2a2a2a" stroke-width="0.9" />
<line x1="546.15" y1="760.4" x2="546.15" y2="763.6" stroke="#333" stroke-width="1.0" />
<line x1="576.4" y1="760.4" x2="576.4" y2="763.6" stroke="#333" stroke-width="1.0" />
<line x1="606.3" y1="760.4" x2="606.3" y2="763.6" stroke="#333" stroke-width="1.0" />
<line x1="636.7" y1="760.4" x2="636.7" y2="763.6" stroke="#333" stroke-width="1.0" />
<line x1="525.6" y1="629.3" x2="525.6" y2="760.9" stroke="#333" stroke-width="1.1" />
<line x1="522.6" y1="760.4" x2="657.8" y2="760.4" stroke="#333" stroke-width="1.1" />
<line x1="522.6" y1="760.4" x2="525.6" y2="760.4" stroke="#333" stroke-width="1.0" />
<text x="521.3" y="763.6" font-size="9" text-anchor="end" fill="#1e1e1e" stroke="#1e1e1e" stroke-width="0.22" >0</text>
<line x1="522.6" y1="716.87" x2="525.6" y2="716.87" stroke="#333" stroke-width="1.0" />
<text x="521.3" y="720.07" font-size="9" text-anchor="end" fill="#1e1e1e" stroke="#1e1e1e" stroke-width="0.22" >20</text>
<line x1="522.6" y1="673.34" x2="525.6" y2="673.34" stroke="#333" stroke-width="1.0" />
<text x="521.3" y="676.54" font-size="9" text-anchor="end" fill="#1e1e1e" stroke="#1e1e1e" stroke-width="0.22" >40</text>
<line x1="522.6" y1="629.81" x2="525.6" y2="629.81" stroke="#333" stroke-width="1.0" />
<text x="521.3" y="633.01" font-size="9" text-anchor="end" fill="#1e1e1e" stroke="#1e1e1e" stroke-width="0.22" >60</text>
<text x="548.1" y="773.6" font-size="9.1" text-anchor="middle" fill="#1e1e1e" stroke="#1e1e1e" stroke-width="0.22" textLength="25.6" lengthAdjust="spacingAndGlyphs" >PFB –</text>
<text x="578" y="773.6" font-size="9.1" text-anchor="middle" fill="#1e1e1e" stroke="#1e1e1e" stroke-width="0.22" textLength="25.6" lengthAdjust="spacingAndGlyphs" >PFB +</text>
<text x="611.2" y="773.6" font-size="9.1" text-anchor="middle" fill="#1e1e1e" stroke="#1e1e1e" stroke-width="0.22" textLength="25.6" lengthAdjust="spacingAndGlyphs" >PFB –</text>
<text x="641" y="773.6" font-size="9.1" text-anchor="middle" fill="#1e1e1e" stroke="#1e1e1e" stroke-width="0.22" textLength="25.6" lengthAdjust="spacingAndGlyphs" >PFB +</text>
<line x1="535.3" y1="777.4" x2="586.8" y2="777.4" stroke="#333" stroke-width="1.1" />
<line x1="596.5" y1="777.4" x2="649.5" y2="777.4" stroke="#333" stroke-width="1.1" />
<text x="562" y="789.3" font-size="9.3" text-anchor="middle" fill="#1e1e1e" stroke="#1e1e1e" stroke-width="0.22" >R2</text>
<text x="622.2" y="789.3" font-size="9.3" text-anchor="middle" fill="#1e1e1e" stroke="#1e1e1e" stroke-width="0.22" >R3</text>
<text transform="translate(499.4,689.8) rotate(-90)" font-size="9.2" text-anchor="middle" fill="#1e1e1e" stroke="#1e1e1e" stroke-width="0.22" textLength="62.2" lengthAdjust="spacingAndGlyphs" >Dynamic range</text>
</g>
</svg></body></html>
